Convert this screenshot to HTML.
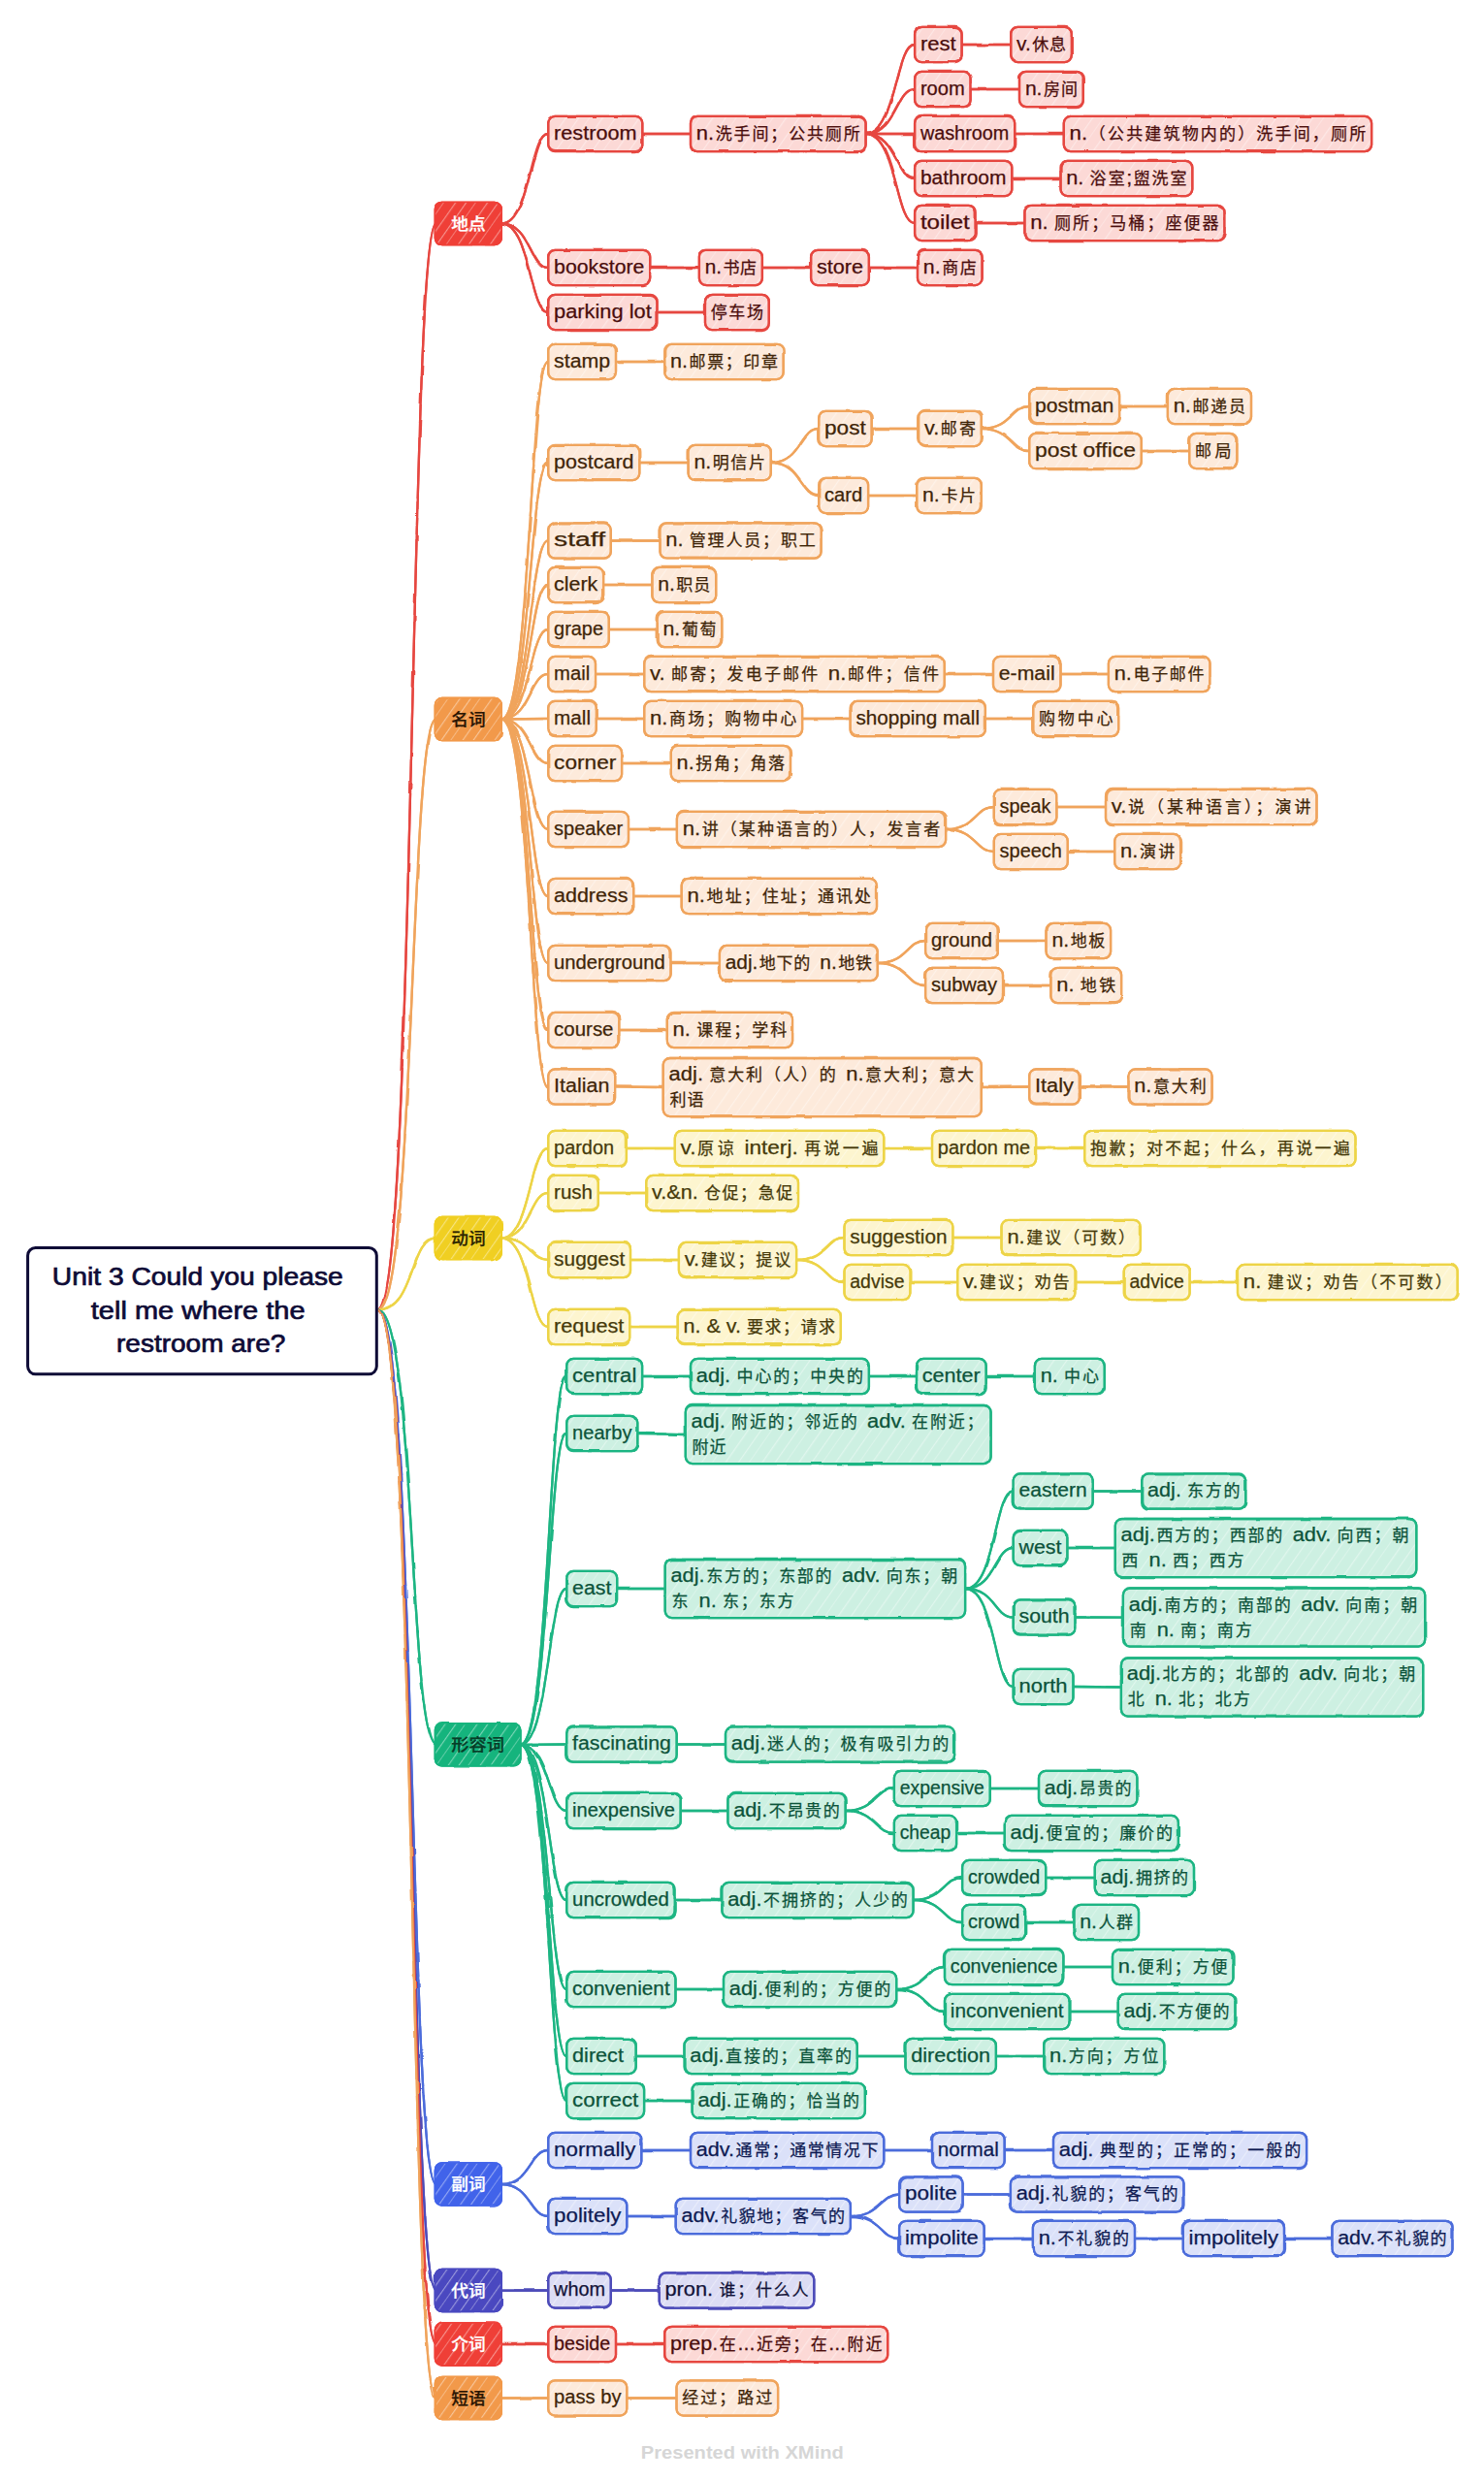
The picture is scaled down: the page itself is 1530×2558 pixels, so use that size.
<!DOCTYPE html>
<html lang="zh"><head><meta charset="utf-8"><title>Unit 3 Could you please tell me where the restroom are?</title>
<style>html,body{margin:0;padding:0;background:#fff}body{width:1530px;height:2558px;overflow:hidden}svg{display:block}.n text{stroke-width:0.25px;paint-order:stroke}</style>
</head><body>
<svg width="1530" height="2558" viewBox="0 0 1530 2558" font-family='"Liberation Sans","Noto Sans CJK SC",sans-serif'>
<defs>
<pattern id="hl" width="40" height="31" patternUnits="userSpaceOnUse" patternTransform="rotate(-55)"><rect x="0" y="0" width="40" height="1.1" fill="#fff" opacity="0.4"/><rect x="0" y="9" width="40" height="0.9" fill="#fff" opacity="0.3"/><rect x="0" y="20" width="40" height="1.3" fill="#fff" opacity="0.38"/></pattern>
<pattern id="hz" width="40" height="27" patternUnits="userSpaceOnUse" patternTransform="rotate(-55)"><rect x="0" y="0" width="40" height="1.1" fill="#fff" opacity="0.45"/><rect x="0" y="8" width="40" height="0.9" fill="#fff" opacity="0.35"/><rect x="0" y="18" width="40" height="1.2" fill="#fff" opacity="0.4"/></pattern>
<filter id="r1" x="0" y="0" width="100%" height="100%" filterUnits="userSpaceOnUse" primitiveUnits="userSpaceOnUse"><feTurbulence type="fractalNoise" baseFrequency="0.035" numOctaves="2" seed="7" result="nz"/><feDisplacementMap in="SourceGraphic" in2="nz" scale="2.6" xChannelSelector="R" yChannelSelector="G"/></filter>
<filter id="r2" x="0" y="0" width="100%" height="100%" filterUnits="userSpaceOnUse" primitiveUnits="userSpaceOnUse"><feTurbulence type="fractalNoise" baseFrequency="0.03" numOctaves="2" seed="23" result="nz"/><feDisplacementMap in="SourceGraphic" in2="nz" scale="2.6" xChannelSelector="G" yChannelSelector="R"/></filter>
<g id="E" fill="none" stroke-linecap="round">
<path d="M389.8 1350.5C428.1 1350.5 422.1 230.5 449.7 230.5" stroke="#e64640" stroke-width="2.3"/>
<path d="M517.0 230.5C546.6 230.5 546.6 138.0 564.8 138.0" stroke="#e64640" stroke-width="2.3"/>
<path d="M662.8 138.0L711.5 138.0" stroke="#e64640" stroke-width="2.3"/>
<path d="M893.0 138.0C923.8 138.0 923.8 46.0 942.6 46.0" stroke="#e64640" stroke-width="2.3"/>
<path d="M992.0 46.0L1041.7 46.0" stroke="#e64640" stroke-width="2.3"/>
<path d="M893.0 138.0C923.8 138.0 923.8 92.0 942.6 92.0" stroke="#e64640" stroke-width="2.3"/>
<path d="M1001.0 92.0L1050.6 92.0" stroke="#e64640" stroke-width="2.3"/>
<path d="M893.0 138.0L942.6 138.0" stroke="#e64640" stroke-width="2.3"/>
<path d="M1046.6 138.0L1096.3 138.0" stroke="#e64640" stroke-width="2.3"/>
<path d="M893.0 138.0C923.8 138.0 923.8 184.0 942.6 184.0" stroke="#e64640" stroke-width="2.3"/>
<path d="M1043.7 184.0L1093.0 184.0" stroke="#e64640" stroke-width="2.3"/>
<path d="M893.0 138.0C923.8 138.0 923.8 230.0 942.6 230.0" stroke="#e64640" stroke-width="2.3"/>
<path d="M1006.1 230.0L1055.9 230.0" stroke="#e64640" stroke-width="2.3"/>
<path d="M517.0 230.5C546.6 230.5 546.6 276.0 564.8 276.0" stroke="#e64640" stroke-width="2.3"/>
<path d="M670.7 276.0L720.4 276.0" stroke="#e64640" stroke-width="2.3"/>
<path d="M786.3 276.0L835.6 276.0" stroke="#e64640" stroke-width="2.3"/>
<path d="M896.3 276.0L945.5 276.0" stroke="#e64640" stroke-width="2.3"/>
<path d="M517.0 230.5C546.6 230.5 546.6 322.0 564.8 322.0" stroke="#e64640" stroke-width="2.3"/>
<path d="M678.0 322.0L726.5 322.0" stroke="#e64640" stroke-width="2.3"/>
<path d="M389.8 1350.5C428.1 1350.5 422.1 741.5 449.7 741.5" stroke="#f0a45c" stroke-width="2.3"/>
<path d="M517.0 741.5C546.6 741.5 546.6 373.0 564.8 373.0" stroke="#f0a45c" stroke-width="2.3"/>
<path d="M635.5 373.0L684.8 373.0" stroke="#f0a45c" stroke-width="2.3"/>
<path d="M517.0 741.5C546.6 741.5 546.6 477.0 564.8 477.0" stroke="#f0a45c" stroke-width="2.3"/>
<path d="M659.8 477.0L709.1 477.0" stroke="#f0a45c" stroke-width="2.3"/>
<path d="M795.2 477.0C825.3 477.0 825.3 442.0 843.7 442.0" stroke="#f0a45c" stroke-width="2.3"/>
<path d="M899.1 442.0L946.7 442.0" stroke="#f0a45c" stroke-width="2.3"/>
<path d="M1012.2 442.0C1042.3 442.0 1042.3 419.0 1060.7 419.0" stroke="#f0a45c" stroke-width="2.3"/>
<path d="M1154.5 419.0L1203.4 419.0" stroke="#f0a45c" stroke-width="2.3"/>
<path d="M1012.2 442.0C1042.3 442.0 1042.3 465.0 1060.7 465.0" stroke="#f0a45c" stroke-width="2.3"/>
<path d="M1177.2 465.0L1225.7 465.0" stroke="#f0a45c" stroke-width="2.3"/>
<path d="M795.2 477.0C825.3 477.0 825.3 511.0 843.7 511.0" stroke="#f0a45c" stroke-width="2.3"/>
<path d="M895.5 511.0L944.7 511.0" stroke="#f0a45c" stroke-width="2.3"/>
<path d="M517.0 741.5C546.6 741.5 546.6 557.5 564.8 557.5" stroke="#f0a45c" stroke-width="2.3"/>
<path d="M630.3 557.5L680.0 557.5" stroke="#f0a45c" stroke-width="2.3"/>
<path d="M517.0 741.5C546.6 741.5 546.6 603.0 564.8 603.0" stroke="#f0a45c" stroke-width="2.3"/>
<path d="M622.6 603.0L671.9 603.0" stroke="#f0a45c" stroke-width="2.3"/>
<path d="M517.0 741.5C546.6 741.5 546.6 649.0 564.8 649.0" stroke="#f0a45c" stroke-width="2.3"/>
<path d="M628.3 649.0L677.2 649.0" stroke="#f0a45c" stroke-width="2.3"/>
<path d="M517.0 741.5C546.6 741.5 546.6 695.0 564.8 695.0" stroke="#f0a45c" stroke-width="2.3"/>
<path d="M614.5 695.0L663.8 695.0" stroke="#f0a45c" stroke-width="2.3"/>
<path d="M974.3 695.0L1023.5 695.0" stroke="#f0a45c" stroke-width="2.3"/>
<path d="M1093.9 695.0L1142.4 695.0" stroke="#f0a45c" stroke-width="2.3"/>
<path d="M517.0 741.5L564.8 741.0" stroke="#f0a45c" stroke-width="2.3"/>
<path d="M615.3 741.0L663.8 741.0" stroke="#f0a45c" stroke-width="2.3"/>
<path d="M827.6 741.0L876.1 741.0" stroke="#f0a45c" stroke-width="2.3"/>
<path d="M1016.3 741.0L1064.8 741.0" stroke="#f0a45c" stroke-width="2.3"/>
<path d="M517.0 741.5C546.6 741.5 546.6 787.0 564.8 787.0" stroke="#f0a45c" stroke-width="2.3"/>
<path d="M641.6 787.0L691.3 787.0" stroke="#f0a45c" stroke-width="2.3"/>
<path d="M517.0 741.5C546.6 741.5 546.6 855.0 564.8 855.0" stroke="#f0a45c" stroke-width="2.3"/>
<path d="M648.5 855.0L697.4 855.0" stroke="#f0a45c" stroke-width="2.3"/>
<path d="M975.5 855.0C1005.8 855.0 1005.8 832.0 1024.3 832.0" stroke="#f0a45c" stroke-width="2.3"/>
<path d="M1089.8 832.0L1139.5 832.0" stroke="#f0a45c" stroke-width="2.3"/>
<path d="M975.5 855.0C1005.8 855.0 1005.8 878.0 1024.3 878.0" stroke="#f0a45c" stroke-width="2.3"/>
<path d="M1101.2 878.0L1148.8 878.0" stroke="#f0a45c" stroke-width="2.3"/>
<path d="M517.0 741.5C546.6 741.5 546.6 924.0 564.8 924.0" stroke="#f0a45c" stroke-width="2.3"/>
<path d="M653.7 924.0L702.2 924.0" stroke="#f0a45c" stroke-width="2.3"/>
<path d="M517.0 741.5C546.6 741.5 546.6 993.0 564.8 993.0" stroke="#f0a45c" stroke-width="2.3"/>
<path d="M692.1 993.0L741.4 993.0" stroke="#f0a45c" stroke-width="2.3"/>
<path d="M905.2 993.0C935.2 993.0 935.2 970.0 953.6 970.0" stroke="#f0a45c" stroke-width="2.3"/>
<path d="M1029.2 970.0L1078.1 970.0" stroke="#f0a45c" stroke-width="2.3"/>
<path d="M905.2 993.0C935.2 993.0 935.2 1016.0 953.6 1016.0" stroke="#f0a45c" stroke-width="2.3"/>
<path d="M1034.4 1016.0L1082.9 1016.0" stroke="#f0a45c" stroke-width="2.3"/>
<path d="M517.0 741.5C546.6 741.5 546.6 1062.0 564.8 1062.0" stroke="#f0a45c" stroke-width="2.3"/>
<path d="M638.8 1062.0L687.3 1062.0" stroke="#f0a45c" stroke-width="2.3"/>
<path d="M517.0 741.5C546.6 741.5 546.6 1120.5 564.8 1120.5" stroke="#f0a45c" stroke-width="2.3"/>
<path d="M634.7 1120.5L683.2 1121.0" stroke="#f0a45c" stroke-width="2.3"/>
<path d="M1012.2 1121.0L1060.7 1120.5" stroke="#f0a45c" stroke-width="2.3"/>
<path d="M1113.3 1120.5L1163.0 1120.5" stroke="#f0a45c" stroke-width="2.3"/>
<path d="M389.8 1350.5C428.1 1350.5 422.1 1276.5 449.7 1276.5" stroke="#edd447" stroke-width="2.3"/>
<path d="M517.0 1276.5C546.6 1276.5 546.6 1184.0 564.8 1184.0" stroke="#edd447" stroke-width="2.3"/>
<path d="M646.4 1184.0L695.3 1184.0" stroke="#edd447" stroke-width="2.3"/>
<path d="M911.7 1184.0L960.5 1184.0" stroke="#edd447" stroke-width="2.3"/>
<path d="M1068.5 1184.0L1117.8 1184.0" stroke="#edd447" stroke-width="2.3"/>
<path d="M517.0 1276.5C546.6 1276.5 546.6 1230.0 564.8 1230.0" stroke="#edd447" stroke-width="2.3"/>
<path d="M617.3 1230.0L665.8 1230.0" stroke="#edd447" stroke-width="2.3"/>
<path d="M517.0 1276.5C546.6 1276.5 546.6 1299.0 564.8 1299.0" stroke="#edd447" stroke-width="2.3"/>
<path d="M650.5 1299.0L699.4 1299.0" stroke="#edd447" stroke-width="2.3"/>
<path d="M821.5 1299.0C851.6 1299.0 851.6 1276.0 870.0 1276.0" stroke="#edd447" stroke-width="2.3"/>
<path d="M982.8 1276.0L1032.1 1276.0" stroke="#edd447" stroke-width="2.3"/>
<path d="M821.5 1299.0C851.6 1299.0 851.6 1322.0 870.0 1322.0" stroke="#edd447" stroke-width="2.3"/>
<path d="M938.8 1322.0L986.8 1322.0" stroke="#edd447" stroke-width="2.3"/>
<path d="M1108.9 1322.0L1158.2 1322.0" stroke="#edd447" stroke-width="2.3"/>
<path d="M1227.0 1322.0L1275.5 1322.0" stroke="#edd447" stroke-width="2.3"/>
<path d="M517.0 1276.5C546.6 1276.5 546.6 1368.0 564.8 1368.0" stroke="#edd447" stroke-width="2.3"/>
<path d="M649.7 1368.0L698.2 1368.0" stroke="#edd447" stroke-width="2.3"/>
<path d="M389.8 1350.5C428.1 1350.5 422.1 1798.8 449.7 1798.8" stroke="#1fb583" stroke-width="2.3"/>
<path d="M536.5 1798.8C565.8 1798.8 565.8 1419.0 583.8 1419.0" stroke="#1fb583" stroke-width="2.3"/>
<path d="M662.6 1419.0L711.5 1419.0" stroke="#1fb583" stroke-width="2.3"/>
<path d="M896.3 1419.0L944.5 1419.0" stroke="#1fb583" stroke-width="2.3"/>
<path d="M1017.1 1419.0L1066.4 1419.0" stroke="#1fb583" stroke-width="2.3"/>
<path d="M536.5 1798.8C565.8 1798.8 565.8 1478.0 583.8 1478.0" stroke="#1fb583" stroke-width="2.3"/>
<path d="M657.8 1478.0C687.9 1478.0 687.9 1479.0 706.3 1479.0" stroke="#1fb583" stroke-width="2.3"/>
<path d="M536.5 1798.8C565.8 1798.8 565.8 1638.0 583.8 1638.0" stroke="#1fb583" stroke-width="2.3"/>
<path d="M636.7 1638.0L685.2 1638.0" stroke="#1fb583" stroke-width="2.3"/>
<path d="M995.5 1638.0C1025.7 1638.0 1025.7 1537.5 1044.2 1537.5" stroke="#1fb583" stroke-width="2.3"/>
<path d="M1127.1 1537.5L1176.8 1537.5" stroke="#1fb583" stroke-width="2.3"/>
<path d="M995.5 1638.0C1025.7 1638.0 1025.7 1596.0 1044.2 1596.0" stroke="#1fb583" stroke-width="2.3"/>
<path d="M1100.8 1596.0L1149.3 1596.0" stroke="#1fb583" stroke-width="2.3"/>
<path d="M995.5 1638.0C1025.7 1638.0 1025.7 1667.5 1044.2 1667.5" stroke="#1fb583" stroke-width="2.3"/>
<path d="M1108.9 1667.5L1157.4 1667.6" stroke="#1fb583" stroke-width="2.3"/>
<path d="M995.5 1638.0C1025.7 1638.0 1025.7 1739.0 1044.2 1739.0" stroke="#1fb583" stroke-width="2.3"/>
<path d="M1106.9 1739.0L1155.4 1739.5" stroke="#1fb583" stroke-width="2.3"/>
<path d="M536.5 1798.8L583.8 1798.5" stroke="#1fb583" stroke-width="2.3"/>
<path d="M698.2 1798.5L747.5 1798.5" stroke="#1fb583" stroke-width="2.3"/>
<path d="M536.5 1798.8C565.8 1798.8 565.8 1867.0 583.8 1867.0" stroke="#1fb583" stroke-width="2.3"/>
<path d="M702.2 1867.0L749.9 1867.0" stroke="#1fb583" stroke-width="2.3"/>
<path d="M872.1 1867.0C902.7 1867.0 902.7 1844.0 921.4 1844.0" stroke="#1fb583" stroke-width="2.3"/>
<path d="M1021.2 1844.0L1070.5 1844.0" stroke="#1fb583" stroke-width="2.3"/>
<path d="M872.1 1867.0C902.7 1867.0 902.7 1890.0 921.4 1890.0" stroke="#1fb583" stroke-width="2.3"/>
<path d="M986.5 1890.0L1035.3 1890.0" stroke="#1fb583" stroke-width="2.3"/>
<path d="M536.5 1798.8C565.8 1798.8 565.8 1959.0 583.8 1959.0" stroke="#1fb583" stroke-width="2.3"/>
<path d="M696.2 1959.0L743.9 1959.0" stroke="#1fb583" stroke-width="2.3"/>
<path d="M942.0 1959.0C972.8 1959.0 972.8 1936.0 991.6 1936.0" stroke="#1fb583" stroke-width="2.3"/>
<path d="M1078.6 1936.0L1128.3 1936.0" stroke="#1fb583" stroke-width="2.3"/>
<path d="M942.0 1959.0C972.8 1959.0 972.8 1982.0 991.6 1982.0" stroke="#1fb583" stroke-width="2.3"/>
<path d="M1057.6 1982.0L1106.9 1982.0" stroke="#1fb583" stroke-width="2.3"/>
<path d="M536.5 1798.8C565.8 1798.8 565.8 2051.0 583.8 2051.0" stroke="#1fb583" stroke-width="2.3"/>
<path d="M697.0 2051.0L745.5 2051.0" stroke="#1fb583" stroke-width="2.3"/>
<path d="M924.6 2051.0C954.9 2051.0 954.9 2028.0 973.5 2028.0" stroke="#1fb583" stroke-width="2.3"/>
<path d="M1096.8 2028.0L1146.5 2028.0" stroke="#1fb583" stroke-width="2.3"/>
<path d="M924.6 2051.0C954.9 2051.0 954.9 2074.0 973.5 2074.0" stroke="#1fb583" stroke-width="2.3"/>
<path d="M1102.9 2074.0L1152.2 2074.0" stroke="#1fb583" stroke-width="2.3"/>
<path d="M536.5 1798.8C565.8 1798.8 565.8 2120.0 583.8 2120.0" stroke="#1fb583" stroke-width="2.3"/>
<path d="M656.2 2120.0L705.0 2120.0" stroke="#1fb583" stroke-width="2.3"/>
<path d="M884.2 2120.0L933.0 2120.0" stroke="#1fb583" stroke-width="2.3"/>
<path d="M1027.3 2120.0L1075.7 2120.0" stroke="#1fb583" stroke-width="2.3"/>
<path d="M536.5 1798.8C565.8 1798.8 565.8 2166.0 583.8 2166.0" stroke="#1fb583" stroke-width="2.3"/>
<path d="M664.6 2166.0L713.1 2166.0" stroke="#1fb583" stroke-width="2.3"/>
<path d="M389.8 1350.5C428.1 1350.5 422.1 2252.0 449.7 2252.0" stroke="#4c6cdb" stroke-width="2.3"/>
<path d="M517.0 2252.0C546.6 2252.0 546.6 2217.0 564.8 2217.0" stroke="#4c6cdb" stroke-width="2.3"/>
<path d="M661.8 2217.0L711.5 2217.0" stroke="#4c6cdb" stroke-width="2.3"/>
<path d="M911.7 2217.0L960.5 2217.0" stroke="#4c6cdb" stroke-width="2.3"/>
<path d="M1036.1 2217.0L1085.5 2217.0" stroke="#4c6cdb" stroke-width="2.3"/>
<path d="M517.0 2252.0C546.6 2252.0 546.6 2285.0 564.8 2285.0" stroke="#4c6cdb" stroke-width="2.3"/>
<path d="M646.8 2285.0L696.2 2285.0" stroke="#4c6cdb" stroke-width="2.3"/>
<path d="M877.3 2285.0C907.9 2285.0 907.9 2262.5 926.6 2262.5" stroke="#4c6cdb" stroke-width="2.3"/>
<path d="M993.0 2262.5L1041.4 2262.5" stroke="#4c6cdb" stroke-width="2.3"/>
<path d="M877.3 2285.0C907.9 2285.0 907.9 2308.0 926.6 2308.0" stroke="#4c6cdb" stroke-width="2.3"/>
<path d="M1015.1 2308.0L1064.4 2308.0" stroke="#4c6cdb" stroke-width="2.3"/>
<path d="M1170.4 2308.0L1219.3 2308.0" stroke="#4c6cdb" stroke-width="2.3"/>
<path d="M1324.4 2308.0L1372.9 2308.0" stroke="#4c6cdb" stroke-width="2.3"/>
<path d="M389.8 1350.5C428.1 1350.5 422.1 2361.5 449.7 2361.5" stroke="#4d4cb9" stroke-width="2.3"/>
<path d="M517.0 2361.5L564.8 2361.5" stroke="#4d4cb9" stroke-width="2.3"/>
<path d="M630.3 2361.5L679.2 2361.5" stroke="#4d4cb9" stroke-width="2.3"/>
<path d="M389.8 1350.5C428.1 1350.5 422.1 2417.0 449.7 2417.0" stroke="#e64640" stroke-width="2.3"/>
<path d="M517.0 2417.0L564.8 2417.0" stroke="#e64640" stroke-width="2.3"/>
<path d="M635.5 2417.0L684.8 2417.0" stroke="#e64640" stroke-width="2.3"/>
<path d="M389.8 1350.5C428.1 1350.5 422.1 2472.5 449.7 2472.5" stroke="#f0a45c" stroke-width="2.3"/>
<path d="M517.0 2472.5L564.8 2472.5" stroke="#f0a45c" stroke-width="2.3"/>
<path d="M646.8 2472.5L697.0 2472.5" stroke="#f0a45c" stroke-width="2.3"/>
</g>
<g id="B" fill="none" stroke-width="2.3">
<rect x="448.4" y="208.4" width="68.9" height="44.1" rx="7.5" stroke="#ef3f37" stroke-width="1.4"/>
<rect x="565.2" y="119.9" width="97.1" height="36.3" rx="7" stroke="#e64640"/>
<rect x="712.0" y="119.9" width="180.6" height="36.3" rx="7" stroke="#e64640"/>
<rect x="943.1" y="27.8" width="48.5" height="36.3" rx="7" stroke="#e64640"/>
<rect x="1042.2" y="27.8" width="62.6" height="36.3" rx="7" stroke="#e64640"/>
<rect x="943.1" y="73.9" width="57.5" height="36.3" rx="7" stroke="#e64640"/>
<rect x="1051.0" y="73.9" width="65.8" height="36.3" rx="7" stroke="#e64640"/>
<rect x="943.1" y="119.9" width="103.1" height="36.3" rx="7" stroke="#e64640"/>
<rect x="1096.8" y="119.9" width="317.3" height="36.3" rx="7" stroke="#e64640"/>
<rect x="943.1" y="165.8" width="100.2" height="36.3" rx="7" stroke="#e64640"/>
<rect x="1093.5" y="165.8" width="135.8" height="36.3" rx="7" stroke="#e64640"/>
<rect x="943.1" y="211.8" width="62.6" height="36.3" rx="7" stroke="#e64640"/>
<rect x="1056.4" y="211.8" width="206.1" height="36.3" rx="7" stroke="#e64640"/>
<rect x="565.2" y="257.8" width="105.0" height="36.3" rx="7" stroke="#e64640"/>
<rect x="720.9" y="257.8" width="65.0" height="36.3" rx="7" stroke="#e64640"/>
<rect x="836.1" y="257.8" width="59.8" height="36.3" rx="7" stroke="#e64640"/>
<rect x="946.0" y="257.8" width="66.6" height="36.3" rx="7" stroke="#e64640"/>
<rect x="565.2" y="303.8" width="112.3" height="36.3" rx="7" stroke="#e64640"/>
<rect x="727.0" y="303.8" width="65.8" height="36.3" rx="7" stroke="#e64640"/>
<rect x="448.4" y="719.5" width="68.9" height="44.1" rx="7.5" stroke="#f2994a" stroke-width="1.4"/>
<rect x="565.2" y="354.8" width="69.8" height="36.3" rx="7" stroke="#f0a45c"/>
<rect x="685.2" y="354.8" width="122.5" height="36.3" rx="7" stroke="#f0a45c"/>
<rect x="565.2" y="458.8" width="94.1" height="36.3" rx="7" stroke="#f0a45c"/>
<rect x="709.6" y="458.8" width="85.2" height="36.3" rx="7" stroke="#f0a45c"/>
<rect x="844.2" y="423.8" width="54.5" height="36.3" rx="7" stroke="#f0a45c"/>
<rect x="947.2" y="423.8" width="64.6" height="36.3" rx="7" stroke="#f0a45c"/>
<rect x="1061.2" y="400.8" width="92.9" height="36.3" rx="7" stroke="#f0a45c"/>
<rect x="1203.9" y="400.8" width="86.1" height="36.3" rx="7" stroke="#f0a45c"/>
<rect x="1061.2" y="446.8" width="115.6" height="36.3" rx="7" stroke="#f0a45c"/>
<rect x="1226.2" y="446.8" width="49.2" height="36.3" rx="7" stroke="#f0a45c"/>
<rect x="844.2" y="492.8" width="50.9" height="36.3" rx="7" stroke="#f0a45c"/>
<rect x="945.2" y="492.8" width="66.6" height="36.3" rx="7" stroke="#f0a45c"/>
<rect x="565.2" y="539.4" width="64.6" height="36.3" rx="7" stroke="#f0a45c"/>
<rect x="680.5" y="539.4" width="166.1" height="36.3" rx="7" stroke="#f0a45c"/>
<rect x="565.2" y="584.9" width="56.9" height="36.3" rx="7" stroke="#f0a45c"/>
<rect x="672.4" y="584.9" width="65.8" height="36.3" rx="7" stroke="#f0a45c"/>
<rect x="565.2" y="630.9" width="62.6" height="36.3" rx="7" stroke="#f0a45c"/>
<rect x="677.7" y="630.9" width="66.6" height="36.3" rx="7" stroke="#f0a45c"/>
<rect x="565.2" y="676.9" width="48.8" height="36.3" rx="7" stroke="#f0a45c"/>
<rect x="664.2" y="676.9" width="309.6" height="36.3" rx="7" stroke="#f0a45c"/>
<rect x="1024.0" y="676.9" width="69.5" height="36.3" rx="7" stroke="#f0a45c"/>
<rect x="1142.9" y="676.9" width="104.6" height="36.3" rx="7" stroke="#f0a45c"/>
<rect x="565.2" y="722.9" width="49.6" height="36.3" rx="7" stroke="#f0a45c"/>
<rect x="664.2" y="722.9" width="162.9" height="36.3" rx="7" stroke="#f0a45c"/>
<rect x="876.6" y="722.9" width="139.3" height="36.3" rx="7" stroke="#f0a45c"/>
<rect x="1065.2" y="722.9" width="88.0" height="36.3" rx="7" stroke="#f0a45c"/>
<rect x="565.2" y="768.9" width="75.9" height="36.3" rx="7" stroke="#f0a45c"/>
<rect x="691.8" y="768.9" width="123.2" height="36.3" rx="7" stroke="#f0a45c"/>
<rect x="565.2" y="836.9" width="82.8" height="36.3" rx="7" stroke="#f0a45c"/>
<rect x="697.9" y="836.9" width="277.2" height="36.3" rx="7" stroke="#f0a45c"/>
<rect x="1024.8" y="813.9" width="64.6" height="36.3" rx="7" stroke="#f0a45c"/>
<rect x="1140.0" y="813.9" width="217.5" height="36.3" rx="7" stroke="#f0a45c"/>
<rect x="1024.8" y="859.9" width="76.0" height="36.3" rx="7" stroke="#f0a45c"/>
<rect x="1149.2" y="859.9" width="67.9" height="36.3" rx="7" stroke="#f0a45c"/>
<rect x="565.2" y="905.9" width="88.0" height="36.3" rx="7" stroke="#f0a45c"/>
<rect x="702.7" y="905.9" width="201.3" height="36.3" rx="7" stroke="#f0a45c"/>
<rect x="565.2" y="974.9" width="126.4" height="36.3" rx="7" stroke="#f0a45c"/>
<rect x="741.9" y="974.9" width="162.9" height="36.3" rx="7" stroke="#f0a45c"/>
<rect x="954.1" y="951.9" width="74.7" height="36.3" rx="7" stroke="#f0a45c"/>
<rect x="1078.5" y="951.9" width="66.6" height="36.3" rx="7" stroke="#f0a45c"/>
<rect x="954.1" y="997.9" width="79.9" height="36.3" rx="7" stroke="#f0a45c"/>
<rect x="1083.4" y="997.9" width="72.7" height="36.3" rx="7" stroke="#f0a45c"/>
<rect x="565.2" y="1043.9" width="73.1" height="36.3" rx="7" stroke="#f0a45c"/>
<rect x="687.8" y="1043.9" width="129.3" height="36.3" rx="7" stroke="#f0a45c"/>
<rect x="565.2" y="1102.4" width="69.0" height="36.3" rx="7" stroke="#f0a45c"/>
<rect x="683.7" y="1091.0" width="328.1" height="60.1" rx="7" stroke="#f0a45c"/>
<rect x="1061.2" y="1102.4" width="51.7" height="36.3" rx="7" stroke="#f0a45c"/>
<rect x="1163.5" y="1102.4" width="86.1" height="36.3" rx="7" stroke="#f0a45c"/>
<rect x="448.4" y="1254.5" width="68.9" height="44.1" rx="7.5" stroke="#f0cf22" stroke-width="1.4"/>
<rect x="565.2" y="1165.9" width="80.7" height="36.3" rx="7" stroke="#edd447"/>
<rect x="695.8" y="1165.9" width="215.5" height="36.3" rx="7" stroke="#edd447"/>
<rect x="961.0" y="1165.9" width="107.1" height="36.3" rx="7" stroke="#edd447"/>
<rect x="1118.2" y="1165.9" width="279.3" height="36.3" rx="7" stroke="#edd447"/>
<rect x="565.2" y="1211.9" width="51.6" height="36.3" rx="7" stroke="#edd447"/>
<rect x="666.2" y="1211.9" width="156.8" height="36.3" rx="7" stroke="#edd447"/>
<rect x="565.2" y="1280.9" width="84.8" height="36.3" rx="7" stroke="#edd447"/>
<rect x="699.9" y="1280.9" width="121.2" height="36.3" rx="7" stroke="#edd447"/>
<rect x="870.5" y="1257.9" width="111.9" height="36.3" rx="7" stroke="#edd447"/>
<rect x="1032.5" y="1257.9" width="143.4" height="36.3" rx="7" stroke="#edd447"/>
<rect x="870.5" y="1303.9" width="67.9" height="36.3" rx="7" stroke="#edd447"/>
<rect x="987.2" y="1303.9" width="121.2" height="36.3" rx="7" stroke="#edd447"/>
<rect x="1158.7" y="1303.9" width="67.9" height="36.3" rx="7" stroke="#edd447"/>
<rect x="1276.0" y="1303.9" width="226.7" height="36.3" rx="7" stroke="#edd447"/>
<rect x="565.2" y="1349.9" width="84.0" height="36.3" rx="7" stroke="#edd447"/>
<rect x="698.7" y="1349.9" width="168.1" height="36.3" rx="7" stroke="#edd447"/>
<rect x="448.4" y="1776.8" width="88.4" height="44.1" rx="7.5" stroke="#15b47d" stroke-width="1.4"/>
<rect x="584.2" y="1400.9" width="77.9" height="36.3" rx="7" stroke="#1fb583"/>
<rect x="712.0" y="1400.9" width="183.9" height="36.3" rx="7" stroke="#1fb583"/>
<rect x="945.0" y="1400.9" width="71.7" height="36.3" rx="7" stroke="#1fb583"/>
<rect x="1066.9" y="1400.9" width="71.9" height="36.3" rx="7" stroke="#1fb583"/>
<rect x="584.2" y="1459.9" width="73.1" height="36.3" rx="7" stroke="#1fb583"/>
<rect x="706.8" y="1449.0" width="314.8" height="60.1" rx="7" stroke="#1fb583"/>
<rect x="584.2" y="1619.9" width="52.0" height="36.3" rx="7" stroke="#1fb583"/>
<rect x="685.7" y="1608.0" width="309.4" height="60.1" rx="7" stroke="#1fb583"/>
<rect x="1044.7" y="1519.4" width="82.0" height="36.3" rx="7" stroke="#1fb583"/>
<rect x="1177.2" y="1519.4" width="107.1" height="36.3" rx="7" stroke="#1fb583"/>
<rect x="1044.7" y="1577.9" width="55.7" height="36.3" rx="7" stroke="#1fb583"/>
<rect x="1149.8" y="1566.0" width="310.5" height="60.1" rx="7" stroke="#1fb583"/>
<rect x="1044.7" y="1649.4" width="63.8" height="36.3" rx="7" stroke="#1fb583"/>
<rect x="1157.9" y="1637.5" width="311.3" height="60.1" rx="7" stroke="#1fb583"/>
<rect x="1044.7" y="1720.9" width="61.8" height="36.3" rx="7" stroke="#1fb583"/>
<rect x="1155.9" y="1709.5" width="311.3" height="60.1" rx="7" stroke="#1fb583"/>
<rect x="584.2" y="1780.4" width="113.5" height="36.3" rx="7" stroke="#1fb583"/>
<rect x="748.0" y="1780.4" width="236.1" height="36.3" rx="7" stroke="#1fb583"/>
<rect x="584.2" y="1848.9" width="117.5" height="36.3" rx="7" stroke="#1fb583"/>
<rect x="750.4" y="1848.9" width="121.3" height="36.3" rx="7" stroke="#1fb583"/>
<rect x="921.9" y="1825.9" width="98.9" height="36.3" rx="7" stroke="#1fb583"/>
<rect x="1071.0" y="1825.9" width="101.4" height="36.3" rx="7" stroke="#1fb583"/>
<rect x="921.9" y="1871.9" width="64.2" height="36.3" rx="7" stroke="#1fb583"/>
<rect x="1035.8" y="1871.9" width="179.1" height="36.3" rx="7" stroke="#1fb583"/>
<rect x="584.2" y="1940.9" width="111.5" height="36.3" rx="7" stroke="#1fb583"/>
<rect x="744.4" y="1940.9" width="197.2" height="36.3" rx="7" stroke="#1fb583"/>
<rect x="992.1" y="1917.9" width="86.1" height="36.3" rx="7" stroke="#1fb583"/>
<rect x="1128.8" y="1917.9" width="102.2" height="36.3" rx="7" stroke="#1fb583"/>
<rect x="992.1" y="1963.9" width="65.1" height="36.3" rx="7" stroke="#1fb583"/>
<rect x="1107.4" y="1963.9" width="66.6" height="36.3" rx="7" stroke="#1fb583"/>
<rect x="584.2" y="2032.9" width="112.3" height="36.3" rx="7" stroke="#1fb583"/>
<rect x="746.0" y="2032.9" width="178.2" height="36.3" rx="7" stroke="#1fb583"/>
<rect x="974.0" y="2009.9" width="122.4" height="36.3" rx="7" stroke="#1fb583"/>
<rect x="1147.0" y="2009.9" width="124.5" height="36.3" rx="7" stroke="#1fb583"/>
<rect x="974.0" y="2055.8" width="128.5" height="36.3" rx="7" stroke="#1fb583"/>
<rect x="1152.7" y="2055.8" width="120.8" height="36.3" rx="7" stroke="#1fb583"/>
<rect x="584.2" y="2101.8" width="71.5" height="36.3" rx="7" stroke="#1fb583"/>
<rect x="705.5" y="2101.8" width="178.3" height="36.3" rx="7" stroke="#1fb583"/>
<rect x="933.5" y="2101.8" width="93.4" height="36.3" rx="7" stroke="#1fb583"/>
<rect x="1076.2" y="2101.8" width="124.1" height="36.3" rx="7" stroke="#1fb583"/>
<rect x="584.2" y="2147.8" width="79.9" height="36.3" rx="7" stroke="#1fb583"/>
<rect x="713.6" y="2147.8" width="178.3" height="36.3" rx="7" stroke="#1fb583"/>
<rect x="448.4" y="2229.9" width="68.9" height="44.1" rx="7.5" stroke="#4163ea" stroke-width="1.4"/>
<rect x="565.2" y="2198.8" width="96.1" height="36.3" rx="7" stroke="#4c6cdb"/>
<rect x="712.0" y="2198.8" width="199.3" height="36.3" rx="7" stroke="#4c6cdb"/>
<rect x="961.0" y="2198.8" width="74.7" height="36.3" rx="7" stroke="#4c6cdb"/>
<rect x="1086.0" y="2198.8" width="261.1" height="36.3" rx="7" stroke="#4c6cdb"/>
<rect x="565.2" y="2266.8" width="81.1" height="36.3" rx="7" stroke="#4c6cdb"/>
<rect x="696.7" y="2266.8" width="180.2" height="36.3" rx="7" stroke="#4c6cdb"/>
<rect x="927.1" y="2244.3" width="65.5" height="36.3" rx="7" stroke="#4c6cdb"/>
<rect x="1041.9" y="2244.3" width="178.6" height="36.3" rx="7" stroke="#4c6cdb"/>
<rect x="927.1" y="2289.8" width="87.6" height="36.3" rx="7" stroke="#4c6cdb"/>
<rect x="1064.9" y="2289.8" width="105.1" height="36.3" rx="7" stroke="#4c6cdb"/>
<rect x="1219.8" y="2289.8" width="104.2" height="36.3" rx="7" stroke="#4c6cdb"/>
<rect x="1373.4" y="2289.8" width="124.1" height="36.3" rx="7" stroke="#4c6cdb"/>
<rect x="448.4" y="2339.4" width="68.9" height="44.1" rx="7.5" stroke="#4a48c0" stroke-width="1.4"/>
<rect x="565.2" y="2343.3" width="64.6" height="36.3" rx="7" stroke="#4d4cb9"/>
<rect x="679.7" y="2343.3" width="159.6" height="36.3" rx="7" stroke="#4d4cb9"/>
<rect x="448.4" y="2394.9" width="68.9" height="44.1" rx="7.5" stroke="#ef3f37" stroke-width="1.4"/>
<rect x="565.2" y="2398.8" width="69.8" height="36.3" rx="7" stroke="#e64640"/>
<rect x="685.2" y="2398.8" width="230.0" height="36.3" rx="7" stroke="#e64640"/>
<rect x="448.4" y="2450.4" width="68.9" height="44.1" rx="7.5" stroke="#f2994a" stroke-width="1.4"/>
<rect x="565.2" y="2454.3" width="81.1" height="36.3" rx="7" stroke="#f0a45c"/>
<rect x="697.5" y="2454.3" width="104.6" height="36.3" rx="7" stroke="#f0a45c"/>
</g>
</defs>
<rect width="1530" height="2558" fill="#fff"/>
<use href="#E" filter="url(#r1)"/>
<use href="#E" filter="url(#r2)"/>
<g>
<rect x="447.7" y="207.8" width="70.3" height="45.5" rx="8" fill="#ef3f37"/>
<rect x="565.2" y="119.9" width="97.1" height="36.3" rx="7" fill="#fcd9d6"/>
<rect x="712.0" y="119.9" width="180.6" height="36.3" rx="7" fill="#fcd9d6"/>
<rect x="943.1" y="27.8" width="48.5" height="36.3" rx="7" fill="#fcd9d6"/>
<rect x="1042.2" y="27.8" width="62.6" height="36.3" rx="7" fill="#fcd9d6"/>
<rect x="943.1" y="73.9" width="57.5" height="36.3" rx="7" fill="#fcd9d6"/>
<rect x="1051.0" y="73.9" width="65.8" height="36.3" rx="7" fill="#fcd9d6"/>
<rect x="943.1" y="119.9" width="103.1" height="36.3" rx="7" fill="#fcd9d6"/>
<rect x="1096.8" y="119.9" width="317.3" height="36.3" rx="7" fill="#fcd9d6"/>
<rect x="943.1" y="165.8" width="100.2" height="36.3" rx="7" fill="#fcd9d6"/>
<rect x="1093.5" y="165.8" width="135.8" height="36.3" rx="7" fill="#fcd9d6"/>
<rect x="943.1" y="211.8" width="62.6" height="36.3" rx="7" fill="#fcd9d6"/>
<rect x="1056.4" y="211.8" width="206.1" height="36.3" rx="7" fill="#fcd9d6"/>
<rect x="565.2" y="257.8" width="105.0" height="36.3" rx="7" fill="#fcd9d6"/>
<rect x="720.9" y="257.8" width="65.0" height="36.3" rx="7" fill="#fcd9d6"/>
<rect x="836.1" y="257.8" width="59.8" height="36.3" rx="7" fill="#fcd9d6"/>
<rect x="946.0" y="257.8" width="66.6" height="36.3" rx="7" fill="#fcd9d6"/>
<rect x="565.2" y="303.8" width="112.3" height="36.3" rx="7" fill="#fcd9d6"/>
<rect x="727.0" y="303.8" width="65.8" height="36.3" rx="7" fill="#fcd9d6"/>
<rect x="447.7" y="718.8" width="70.3" height="45.5" rx="8" fill="#f2994a"/>
<rect x="565.2" y="354.8" width="69.8" height="36.3" rx="7" fill="#fdeadb"/>
<rect x="685.2" y="354.8" width="122.5" height="36.3" rx="7" fill="#fdeadb"/>
<rect x="565.2" y="458.8" width="94.1" height="36.3" rx="7" fill="#fdeadb"/>
<rect x="709.6" y="458.8" width="85.2" height="36.3" rx="7" fill="#fdeadb"/>
<rect x="844.2" y="423.8" width="54.5" height="36.3" rx="7" fill="#fdeadb"/>
<rect x="947.2" y="423.8" width="64.6" height="36.3" rx="7" fill="#fdeadb"/>
<rect x="1061.2" y="400.8" width="92.9" height="36.3" rx="7" fill="#fdeadb"/>
<rect x="1203.9" y="400.8" width="86.1" height="36.3" rx="7" fill="#fdeadb"/>
<rect x="1061.2" y="446.8" width="115.6" height="36.3" rx="7" fill="#fdeadb"/>
<rect x="1226.2" y="446.8" width="49.2" height="36.3" rx="7" fill="#fdeadb"/>
<rect x="844.2" y="492.8" width="50.9" height="36.3" rx="7" fill="#fdeadb"/>
<rect x="945.2" y="492.8" width="66.6" height="36.3" rx="7" fill="#fdeadb"/>
<rect x="565.2" y="539.4" width="64.6" height="36.3" rx="7" fill="#fdeadb"/>
<rect x="680.5" y="539.4" width="166.1" height="36.3" rx="7" fill="#fdeadb"/>
<rect x="565.2" y="584.9" width="56.9" height="36.3" rx="7" fill="#fdeadb"/>
<rect x="672.4" y="584.9" width="65.8" height="36.3" rx="7" fill="#fdeadb"/>
<rect x="565.2" y="630.9" width="62.6" height="36.3" rx="7" fill="#fdeadb"/>
<rect x="677.7" y="630.9" width="66.6" height="36.3" rx="7" fill="#fdeadb"/>
<rect x="565.2" y="676.9" width="48.8" height="36.3" rx="7" fill="#fdeadb"/>
<rect x="664.2" y="676.9" width="309.6" height="36.3" rx="7" fill="#fdeadb"/>
<rect x="1024.0" y="676.9" width="69.5" height="36.3" rx="7" fill="#fdeadb"/>
<rect x="1142.9" y="676.9" width="104.6" height="36.3" rx="7" fill="#fdeadb"/>
<rect x="565.2" y="722.9" width="49.6" height="36.3" rx="7" fill="#fdeadb"/>
<rect x="664.2" y="722.9" width="162.9" height="36.3" rx="7" fill="#fdeadb"/>
<rect x="876.6" y="722.9" width="139.3" height="36.3" rx="7" fill="#fdeadb"/>
<rect x="1065.2" y="722.9" width="88.0" height="36.3" rx="7" fill="#fdeadb"/>
<rect x="565.2" y="768.9" width="75.9" height="36.3" rx="7" fill="#fdeadb"/>
<rect x="691.8" y="768.9" width="123.2" height="36.3" rx="7" fill="#fdeadb"/>
<rect x="565.2" y="836.9" width="82.8" height="36.3" rx="7" fill="#fdeadb"/>
<rect x="697.9" y="836.9" width="277.2" height="36.3" rx="7" fill="#fdeadb"/>
<rect x="1024.8" y="813.9" width="64.6" height="36.3" rx="7" fill="#fdeadb"/>
<rect x="1140.0" y="813.9" width="217.5" height="36.3" rx="7" fill="#fdeadb"/>
<rect x="1024.8" y="859.9" width="76.0" height="36.3" rx="7" fill="#fdeadb"/>
<rect x="1149.2" y="859.9" width="67.9" height="36.3" rx="7" fill="#fdeadb"/>
<rect x="565.2" y="905.9" width="88.0" height="36.3" rx="7" fill="#fdeadb"/>
<rect x="702.7" y="905.9" width="201.3" height="36.3" rx="7" fill="#fdeadb"/>
<rect x="565.2" y="974.9" width="126.4" height="36.3" rx="7" fill="#fdeadb"/>
<rect x="741.9" y="974.9" width="162.9" height="36.3" rx="7" fill="#fdeadb"/>
<rect x="954.1" y="951.9" width="74.7" height="36.3" rx="7" fill="#fdeadb"/>
<rect x="1078.5" y="951.9" width="66.6" height="36.3" rx="7" fill="#fdeadb"/>
<rect x="954.1" y="997.9" width="79.9" height="36.3" rx="7" fill="#fdeadb"/>
<rect x="1083.4" y="997.9" width="72.7" height="36.3" rx="7" fill="#fdeadb"/>
<rect x="565.2" y="1043.9" width="73.1" height="36.3" rx="7" fill="#fdeadb"/>
<rect x="687.8" y="1043.9" width="129.3" height="36.3" rx="7" fill="#fdeadb"/>
<rect x="565.2" y="1102.4" width="69.0" height="36.3" rx="7" fill="#fdeadb"/>
<rect x="683.7" y="1091.0" width="328.1" height="60.1" rx="7" fill="#fdeadb"/>
<rect x="1061.2" y="1102.4" width="51.7" height="36.3" rx="7" fill="#fdeadb"/>
<rect x="1163.5" y="1102.4" width="86.1" height="36.3" rx="7" fill="#fdeadb"/>
<rect x="447.7" y="1253.8" width="70.3" height="45.5" rx="8" fill="#f0cf22"/>
<rect x="565.2" y="1165.9" width="80.7" height="36.3" rx="7" fill="#fdf5cf"/>
<rect x="695.8" y="1165.9" width="215.5" height="36.3" rx="7" fill="#fdf5cf"/>
<rect x="961.0" y="1165.9" width="107.1" height="36.3" rx="7" fill="#fdf5cf"/>
<rect x="1118.2" y="1165.9" width="279.3" height="36.3" rx="7" fill="#fdf5cf"/>
<rect x="565.2" y="1211.9" width="51.6" height="36.3" rx="7" fill="#fdf5cf"/>
<rect x="666.2" y="1211.9" width="156.8" height="36.3" rx="7" fill="#fdf5cf"/>
<rect x="565.2" y="1280.9" width="84.8" height="36.3" rx="7" fill="#fdf5cf"/>
<rect x="699.9" y="1280.9" width="121.2" height="36.3" rx="7" fill="#fdf5cf"/>
<rect x="870.5" y="1257.9" width="111.9" height="36.3" rx="7" fill="#fdf5cf"/>
<rect x="1032.5" y="1257.9" width="143.4" height="36.3" rx="7" fill="#fdf5cf"/>
<rect x="870.5" y="1303.9" width="67.9" height="36.3" rx="7" fill="#fdf5cf"/>
<rect x="987.2" y="1303.9" width="121.2" height="36.3" rx="7" fill="#fdf5cf"/>
<rect x="1158.7" y="1303.9" width="67.9" height="36.3" rx="7" fill="#fdf5cf"/>
<rect x="1276.0" y="1303.9" width="226.7" height="36.3" rx="7" fill="#fdf5cf"/>
<rect x="565.2" y="1349.9" width="84.0" height="36.3" rx="7" fill="#fdf5cf"/>
<rect x="698.7" y="1349.9" width="168.1" height="36.3" rx="7" fill="#fdf5cf"/>
<rect x="447.7" y="1776.0" width="89.8" height="45.5" rx="8" fill="#15b47d"/>
<rect x="584.2" y="1400.9" width="77.9" height="36.3" rx="7" fill="#cdf0e2"/>
<rect x="712.0" y="1400.9" width="183.9" height="36.3" rx="7" fill="#cdf0e2"/>
<rect x="945.0" y="1400.9" width="71.7" height="36.3" rx="7" fill="#cdf0e2"/>
<rect x="1066.9" y="1400.9" width="71.9" height="36.3" rx="7" fill="#cdf0e2"/>
<rect x="584.2" y="1459.9" width="73.1" height="36.3" rx="7" fill="#cdf0e2"/>
<rect x="706.8" y="1449.0" width="314.8" height="60.1" rx="7" fill="#cdf0e2"/>
<rect x="584.2" y="1619.9" width="52.0" height="36.3" rx="7" fill="#cdf0e2"/>
<rect x="685.7" y="1608.0" width="309.4" height="60.1" rx="7" fill="#cdf0e2"/>
<rect x="1044.7" y="1519.4" width="82.0" height="36.3" rx="7" fill="#cdf0e2"/>
<rect x="1177.2" y="1519.4" width="107.1" height="36.3" rx="7" fill="#cdf0e2"/>
<rect x="1044.7" y="1577.9" width="55.7" height="36.3" rx="7" fill="#cdf0e2"/>
<rect x="1149.8" y="1566.0" width="310.5" height="60.1" rx="7" fill="#cdf0e2"/>
<rect x="1044.7" y="1649.4" width="63.8" height="36.3" rx="7" fill="#cdf0e2"/>
<rect x="1157.9" y="1637.5" width="311.3" height="60.1" rx="7" fill="#cdf0e2"/>
<rect x="1044.7" y="1720.9" width="61.8" height="36.3" rx="7" fill="#cdf0e2"/>
<rect x="1155.9" y="1709.5" width="311.3" height="60.1" rx="7" fill="#cdf0e2"/>
<rect x="584.2" y="1780.4" width="113.5" height="36.3" rx="7" fill="#cdf0e2"/>
<rect x="748.0" y="1780.4" width="236.1" height="36.3" rx="7" fill="#cdf0e2"/>
<rect x="584.2" y="1848.9" width="117.5" height="36.3" rx="7" fill="#cdf0e2"/>
<rect x="750.4" y="1848.9" width="121.3" height="36.3" rx="7" fill="#cdf0e2"/>
<rect x="921.9" y="1825.9" width="98.9" height="36.3" rx="7" fill="#cdf0e2"/>
<rect x="1071.0" y="1825.9" width="101.4" height="36.3" rx="7" fill="#cdf0e2"/>
<rect x="921.9" y="1871.9" width="64.2" height="36.3" rx="7" fill="#cdf0e2"/>
<rect x="1035.8" y="1871.9" width="179.1" height="36.3" rx="7" fill="#cdf0e2"/>
<rect x="584.2" y="1940.9" width="111.5" height="36.3" rx="7" fill="#cdf0e2"/>
<rect x="744.4" y="1940.9" width="197.2" height="36.3" rx="7" fill="#cdf0e2"/>
<rect x="992.1" y="1917.9" width="86.1" height="36.3" rx="7" fill="#cdf0e2"/>
<rect x="1128.8" y="1917.9" width="102.2" height="36.3" rx="7" fill="#cdf0e2"/>
<rect x="992.1" y="1963.9" width="65.1" height="36.3" rx="7" fill="#cdf0e2"/>
<rect x="1107.4" y="1963.9" width="66.6" height="36.3" rx="7" fill="#cdf0e2"/>
<rect x="584.2" y="2032.9" width="112.3" height="36.3" rx="7" fill="#cdf0e2"/>
<rect x="746.0" y="2032.9" width="178.2" height="36.3" rx="7" fill="#cdf0e2"/>
<rect x="974.0" y="2009.9" width="122.4" height="36.3" rx="7" fill="#cdf0e2"/>
<rect x="1147.0" y="2009.9" width="124.5" height="36.3" rx="7" fill="#cdf0e2"/>
<rect x="974.0" y="2055.8" width="128.5" height="36.3" rx="7" fill="#cdf0e2"/>
<rect x="1152.7" y="2055.8" width="120.8" height="36.3" rx="7" fill="#cdf0e2"/>
<rect x="584.2" y="2101.8" width="71.5" height="36.3" rx="7" fill="#cdf0e2"/>
<rect x="705.5" y="2101.8" width="178.3" height="36.3" rx="7" fill="#cdf0e2"/>
<rect x="933.5" y="2101.8" width="93.4" height="36.3" rx="7" fill="#cdf0e2"/>
<rect x="1076.2" y="2101.8" width="124.1" height="36.3" rx="7" fill="#cdf0e2"/>
<rect x="584.2" y="2147.8" width="79.9" height="36.3" rx="7" fill="#cdf0e2"/>
<rect x="713.6" y="2147.8" width="178.3" height="36.3" rx="7" fill="#cdf0e2"/>
<rect x="447.7" y="2229.2" width="70.3" height="45.5" rx="8" fill="#4163ea"/>
<rect x="565.2" y="2198.8" width="96.1" height="36.3" rx="7" fill="#dbe1f9"/>
<rect x="712.0" y="2198.8" width="199.3" height="36.3" rx="7" fill="#dbe1f9"/>
<rect x="961.0" y="2198.8" width="74.7" height="36.3" rx="7" fill="#dbe1f9"/>
<rect x="1086.0" y="2198.8" width="261.1" height="36.3" rx="7" fill="#dbe1f9"/>
<rect x="565.2" y="2266.8" width="81.1" height="36.3" rx="7" fill="#dbe1f9"/>
<rect x="696.7" y="2266.8" width="180.2" height="36.3" rx="7" fill="#dbe1f9"/>
<rect x="927.1" y="2244.3" width="65.5" height="36.3" rx="7" fill="#dbe1f9"/>
<rect x="1041.9" y="2244.3" width="178.6" height="36.3" rx="7" fill="#dbe1f9"/>
<rect x="927.1" y="2289.8" width="87.6" height="36.3" rx="7" fill="#dbe1f9"/>
<rect x="1064.9" y="2289.8" width="105.1" height="36.3" rx="7" fill="#dbe1f9"/>
<rect x="1219.8" y="2289.8" width="104.2" height="36.3" rx="7" fill="#dbe1f9"/>
<rect x="1373.4" y="2289.8" width="124.1" height="36.3" rx="7" fill="#dbe1f9"/>
<rect x="447.7" y="2338.8" width="70.3" height="45.5" rx="8" fill="#4a48c0"/>
<rect x="565.2" y="2343.3" width="64.6" height="36.3" rx="7" fill="#dcdcf4"/>
<rect x="679.7" y="2343.3" width="159.6" height="36.3" rx="7" fill="#dcdcf4"/>
<rect x="447.7" y="2394.2" width="70.3" height="45.5" rx="8" fill="#ef3f37"/>
<rect x="565.2" y="2398.8" width="69.8" height="36.3" rx="7" fill="#fcd9d6"/>
<rect x="685.2" y="2398.8" width="230.0" height="36.3" rx="7" fill="#fcd9d6"/>
<rect x="447.7" y="2449.8" width="70.3" height="45.5" rx="8" fill="#f2994a"/>
<rect x="565.2" y="2454.3" width="81.1" height="36.3" rx="7" fill="#fdeadb"/>
<rect x="697.5" y="2454.3" width="104.6" height="36.3" rx="7" fill="#fdeadb"/>
</g>
<g>
<rect x="448.7" y="208.8" width="68.3" height="43.5" rx="7" fill="url(#hz)"/>
<rect x="566.7" y="121.3" width="94.2" height="33.4" rx="5" fill="url(#hl)"/>
<rect x="713.4" y="121.3" width="177.7" height="33.4" rx="5" fill="url(#hl)"/>
<rect x="944.5" y="29.3" width="45.6" height="33.4" rx="5" fill="url(#hl)"/>
<rect x="1043.6" y="29.3" width="59.7" height="33.4" rx="5" fill="url(#hl)"/>
<rect x="944.5" y="75.3" width="54.6" height="33.4" rx="5" fill="url(#hl)"/>
<rect x="1052.5" y="75.3" width="62.9" height="33.4" rx="5" fill="url(#hl)"/>
<rect x="944.5" y="121.3" width="100.2" height="33.4" rx="5" fill="url(#hl)"/>
<rect x="1098.2" y="121.3" width="314.4" height="33.4" rx="5" fill="url(#hl)"/>
<rect x="944.5" y="167.3" width="97.3" height="33.4" rx="5" fill="url(#hl)"/>
<rect x="1094.9" y="167.3" width="132.9" height="33.4" rx="5" fill="url(#hl)"/>
<rect x="944.5" y="213.3" width="59.7" height="33.4" rx="5" fill="url(#hl)"/>
<rect x="1057.8" y="213.3" width="203.2" height="33.4" rx="5" fill="url(#hl)"/>
<rect x="566.7" y="259.3" width="102.1" height="33.4" rx="5" fill="url(#hl)"/>
<rect x="722.3" y="259.3" width="62.1" height="33.4" rx="5" fill="url(#hl)"/>
<rect x="837.5" y="259.3" width="56.9" height="33.4" rx="5" fill="url(#hl)"/>
<rect x="947.4" y="259.3" width="63.7" height="33.4" rx="5" fill="url(#hl)"/>
<rect x="566.7" y="305.3" width="109.4" height="33.4" rx="5" fill="url(#hl)"/>
<rect x="728.4" y="305.3" width="62.9" height="33.4" rx="5" fill="url(#hl)"/>
<rect x="448.7" y="719.8" width="68.3" height="43.5" rx="7" fill="url(#hz)"/>
<rect x="566.7" y="356.3" width="66.9" height="33.4" rx="5" fill="url(#hl)"/>
<rect x="686.7" y="356.3" width="119.6" height="33.4" rx="5" fill="url(#hl)"/>
<rect x="566.7" y="460.3" width="91.2" height="33.4" rx="5" fill="url(#hl)"/>
<rect x="711.0" y="460.3" width="82.3" height="33.4" rx="5" fill="url(#hl)"/>
<rect x="845.6" y="425.3" width="51.6" height="33.4" rx="5" fill="url(#hl)"/>
<rect x="948.6" y="425.3" width="61.7" height="33.4" rx="5" fill="url(#hl)"/>
<rect x="1062.6" y="402.3" width="90.0" height="33.4" rx="5" fill="url(#hl)"/>
<rect x="1205.3" y="402.3" width="83.2" height="33.4" rx="5" fill="url(#hl)"/>
<rect x="1062.6" y="448.3" width="112.7" height="33.4" rx="5" fill="url(#hl)"/>
<rect x="1227.6" y="448.3" width="46.3" height="33.4" rx="5" fill="url(#hl)"/>
<rect x="845.6" y="494.3" width="48.0" height="33.4" rx="5" fill="url(#hl)"/>
<rect x="946.6" y="494.3" width="63.7" height="33.4" rx="5" fill="url(#hl)"/>
<rect x="566.7" y="540.8" width="61.7" height="33.4" rx="5" fill="url(#hl)"/>
<rect x="681.9" y="540.8" width="163.2" height="33.4" rx="5" fill="url(#hl)"/>
<rect x="566.7" y="586.3" width="54.0" height="33.4" rx="5" fill="url(#hl)"/>
<rect x="673.8" y="586.3" width="62.9" height="33.4" rx="5" fill="url(#hl)"/>
<rect x="566.7" y="632.3" width="59.7" height="33.4" rx="5" fill="url(#hl)"/>
<rect x="679.1" y="632.3" width="63.7" height="33.4" rx="5" fill="url(#hl)"/>
<rect x="566.7" y="678.3" width="45.9" height="33.4" rx="5" fill="url(#hl)"/>
<rect x="665.7" y="678.3" width="306.7" height="33.4" rx="5" fill="url(#hl)"/>
<rect x="1025.4" y="678.3" width="66.6" height="33.4" rx="5" fill="url(#hl)"/>
<rect x="1144.3" y="678.3" width="101.7" height="33.4" rx="5" fill="url(#hl)"/>
<rect x="566.7" y="724.3" width="46.7" height="33.4" rx="5" fill="url(#hl)"/>
<rect x="665.7" y="724.3" width="160.0" height="33.4" rx="5" fill="url(#hl)"/>
<rect x="878.0" y="724.3" width="136.4" height="33.4" rx="5" fill="url(#hl)"/>
<rect x="1066.7" y="724.3" width="85.1" height="33.4" rx="5" fill="url(#hl)"/>
<rect x="566.7" y="770.3" width="73.0" height="33.4" rx="5" fill="url(#hl)"/>
<rect x="693.2" y="770.3" width="120.3" height="33.4" rx="5" fill="url(#hl)"/>
<rect x="566.7" y="838.3" width="79.9" height="33.4" rx="5" fill="url(#hl)"/>
<rect x="699.3" y="838.3" width="274.3" height="33.4" rx="5" fill="url(#hl)"/>
<rect x="1026.2" y="815.3" width="61.7" height="33.4" rx="5" fill="url(#hl)"/>
<rect x="1141.4" y="815.3" width="214.6" height="33.4" rx="5" fill="url(#hl)"/>
<rect x="1026.2" y="861.3" width="73.1" height="33.4" rx="5" fill="url(#hl)"/>
<rect x="1150.7" y="861.3" width="65.0" height="33.4" rx="5" fill="url(#hl)"/>
<rect x="566.7" y="907.3" width="85.1" height="33.4" rx="5" fill="url(#hl)"/>
<rect x="704.1" y="907.3" width="198.4" height="33.4" rx="5" fill="url(#hl)"/>
<rect x="566.7" y="976.3" width="123.5" height="33.4" rx="5" fill="url(#hl)"/>
<rect x="743.3" y="976.3" width="160.0" height="33.4" rx="5" fill="url(#hl)"/>
<rect x="955.5" y="953.3" width="71.8" height="33.4" rx="5" fill="url(#hl)"/>
<rect x="1080.0" y="953.3" width="63.7" height="33.4" rx="5" fill="url(#hl)"/>
<rect x="955.5" y="999.3" width="77.0" height="33.4" rx="5" fill="url(#hl)"/>
<rect x="1084.8" y="999.3" width="69.8" height="33.4" rx="5" fill="url(#hl)"/>
<rect x="566.7" y="1045.3" width="70.2" height="33.4" rx="5" fill="url(#hl)"/>
<rect x="689.2" y="1045.3" width="126.4" height="33.4" rx="5" fill="url(#hl)"/>
<rect x="566.7" y="1103.8" width="66.1" height="33.4" rx="5" fill="url(#hl)"/>
<rect x="685.1" y="1092.4" width="325.2" height="57.2" rx="5" fill="url(#hl)"/>
<rect x="1062.6" y="1103.8" width="48.8" height="33.4" rx="5" fill="url(#hl)"/>
<rect x="1164.9" y="1103.8" width="83.2" height="33.4" rx="5" fill="url(#hl)"/>
<rect x="448.7" y="1254.8" width="68.3" height="43.5" rx="7" fill="url(#hz)"/>
<rect x="566.7" y="1167.3" width="77.8" height="33.4" rx="5" fill="url(#hl)"/>
<rect x="697.2" y="1167.3" width="212.6" height="33.4" rx="5" fill="url(#hl)"/>
<rect x="962.4" y="1167.3" width="104.2" height="33.4" rx="5" fill="url(#hl)"/>
<rect x="1119.7" y="1167.3" width="276.4" height="33.4" rx="5" fill="url(#hl)"/>
<rect x="566.7" y="1213.3" width="48.7" height="33.4" rx="5" fill="url(#hl)"/>
<rect x="667.7" y="1213.3" width="153.9" height="33.4" rx="5" fill="url(#hl)"/>
<rect x="566.7" y="1282.3" width="81.9" height="33.4" rx="5" fill="url(#hl)"/>
<rect x="701.3" y="1282.3" width="118.3" height="33.4" rx="5" fill="url(#hl)"/>
<rect x="871.9" y="1259.3" width="109.0" height="33.4" rx="5" fill="url(#hl)"/>
<rect x="1034.0" y="1259.3" width="140.5" height="33.4" rx="5" fill="url(#hl)"/>
<rect x="871.9" y="1305.3" width="65.0" height="33.4" rx="5" fill="url(#hl)"/>
<rect x="988.7" y="1305.3" width="118.3" height="33.4" rx="5" fill="url(#hl)"/>
<rect x="1160.1" y="1305.3" width="65.0" height="33.4" rx="5" fill="url(#hl)"/>
<rect x="1277.4" y="1305.3" width="223.8" height="33.4" rx="5" fill="url(#hl)"/>
<rect x="566.7" y="1351.3" width="81.1" height="33.4" rx="5" fill="url(#hl)"/>
<rect x="700.1" y="1351.3" width="165.2" height="33.4" rx="5" fill="url(#hl)"/>
<rect x="448.7" y="1777.0" width="87.8" height="43.5" rx="7" fill="url(#hz)"/>
<rect x="585.7" y="1402.3" width="75.0" height="33.4" rx="5" fill="url(#hl)"/>
<rect x="713.4" y="1402.3" width="181.0" height="33.4" rx="5" fill="url(#hl)"/>
<rect x="946.4" y="1402.3" width="68.8" height="33.4" rx="5" fill="url(#hl)"/>
<rect x="1068.3" y="1402.3" width="69.0" height="33.4" rx="5" fill="url(#hl)"/>
<rect x="585.7" y="1461.3" width="70.2" height="33.4" rx="5" fill="url(#hl)"/>
<rect x="708.2" y="1450.4" width="311.9" height="57.2" rx="5" fill="url(#hl)"/>
<rect x="585.7" y="1621.3" width="49.1" height="33.4" rx="5" fill="url(#hl)"/>
<rect x="687.1" y="1609.4" width="306.5" height="57.2" rx="5" fill="url(#hl)"/>
<rect x="1046.1" y="1520.8" width="79.1" height="33.4" rx="5" fill="url(#hl)"/>
<rect x="1178.7" y="1520.8" width="104.2" height="33.4" rx="5" fill="url(#hl)"/>
<rect x="1046.1" y="1579.3" width="52.8" height="33.4" rx="5" fill="url(#hl)"/>
<rect x="1151.2" y="1567.4" width="307.6" height="57.2" rx="5" fill="url(#hl)"/>
<rect x="1046.1" y="1650.8" width="60.9" height="33.4" rx="5" fill="url(#hl)"/>
<rect x="1159.3" y="1639.0" width="308.4" height="57.2" rx="5" fill="url(#hl)"/>
<rect x="1046.1" y="1722.3" width="58.9" height="33.4" rx="5" fill="url(#hl)"/>
<rect x="1157.3" y="1710.9" width="308.4" height="57.2" rx="5" fill="url(#hl)"/>
<rect x="585.7" y="1781.8" width="110.6" height="33.4" rx="5" fill="url(#hl)"/>
<rect x="749.4" y="1781.8" width="233.2" height="33.4" rx="5" fill="url(#hl)"/>
<rect x="585.7" y="1850.3" width="114.6" height="33.4" rx="5" fill="url(#hl)"/>
<rect x="751.8" y="1850.3" width="118.4" height="33.4" rx="5" fill="url(#hl)"/>
<rect x="923.3" y="1827.3" width="96.0" height="33.4" rx="5" fill="url(#hl)"/>
<rect x="1072.4" y="1827.3" width="98.5" height="33.4" rx="5" fill="url(#hl)"/>
<rect x="923.3" y="1873.3" width="61.3" height="33.4" rx="5" fill="url(#hl)"/>
<rect x="1037.2" y="1873.3" width="176.2" height="33.4" rx="5" fill="url(#hl)"/>
<rect x="585.7" y="1942.3" width="108.6" height="33.4" rx="5" fill="url(#hl)"/>
<rect x="745.8" y="1942.3" width="194.3" height="33.4" rx="5" fill="url(#hl)"/>
<rect x="993.5" y="1919.3" width="83.2" height="33.4" rx="5" fill="url(#hl)"/>
<rect x="1130.2" y="1919.3" width="99.3" height="33.4" rx="5" fill="url(#hl)"/>
<rect x="993.5" y="1965.3" width="62.2" height="33.4" rx="5" fill="url(#hl)"/>
<rect x="1108.8" y="1965.3" width="63.7" height="33.4" rx="5" fill="url(#hl)"/>
<rect x="585.7" y="2034.3" width="109.4" height="33.4" rx="5" fill="url(#hl)"/>
<rect x="747.4" y="2034.3" width="175.3" height="33.4" rx="5" fill="url(#hl)"/>
<rect x="975.4" y="2011.3" width="119.5" height="33.4" rx="5" fill="url(#hl)"/>
<rect x="1148.4" y="2011.3" width="121.6" height="33.4" rx="5" fill="url(#hl)"/>
<rect x="975.4" y="2057.3" width="125.6" height="33.4" rx="5" fill="url(#hl)"/>
<rect x="1154.1" y="2057.3" width="117.9" height="33.4" rx="5" fill="url(#hl)"/>
<rect x="585.7" y="2103.3" width="68.6" height="33.4" rx="5" fill="url(#hl)"/>
<rect x="706.9" y="2103.3" width="175.4" height="33.4" rx="5" fill="url(#hl)"/>
<rect x="934.9" y="2103.3" width="90.5" height="33.4" rx="5" fill="url(#hl)"/>
<rect x="1077.6" y="2103.3" width="121.2" height="33.4" rx="5" fill="url(#hl)"/>
<rect x="585.7" y="2149.3" width="77.0" height="33.4" rx="5" fill="url(#hl)"/>
<rect x="715.0" y="2149.3" width="175.4" height="33.4" rx="5" fill="url(#hl)"/>
<rect x="448.7" y="2230.2" width="68.3" height="43.5" rx="7" fill="url(#hz)"/>
<rect x="566.7" y="2200.3" width="93.2" height="33.4" rx="5" fill="url(#hl)"/>
<rect x="713.4" y="2200.3" width="196.4" height="33.4" rx="5" fill="url(#hl)"/>
<rect x="962.4" y="2200.3" width="71.8" height="33.4" rx="5" fill="url(#hl)"/>
<rect x="1087.4" y="2200.3" width="258.2" height="33.4" rx="5" fill="url(#hl)"/>
<rect x="566.7" y="2268.3" width="78.2" height="33.4" rx="5" fill="url(#hl)"/>
<rect x="698.1" y="2268.3" width="177.3" height="33.4" rx="5" fill="url(#hl)"/>
<rect x="928.5" y="2245.8" width="62.6" height="33.4" rx="5" fill="url(#hl)"/>
<rect x="1043.3" y="2245.8" width="175.7" height="33.4" rx="5" fill="url(#hl)"/>
<rect x="928.5" y="2291.3" width="84.7" height="33.4" rx="5" fill="url(#hl)"/>
<rect x="1066.3" y="2291.3" width="102.2" height="33.4" rx="5" fill="url(#hl)"/>
<rect x="1221.2" y="2291.3" width="101.3" height="33.4" rx="5" fill="url(#hl)"/>
<rect x="1374.8" y="2291.3" width="121.2" height="33.4" rx="5" fill="url(#hl)"/>
<rect x="448.7" y="2339.8" width="68.3" height="43.5" rx="7" fill="url(#hz)"/>
<rect x="566.7" y="2344.8" width="61.7" height="33.4" rx="5" fill="url(#hl)"/>
<rect x="681.1" y="2344.8" width="156.7" height="33.4" rx="5" fill="url(#hl)"/>
<rect x="448.7" y="2395.2" width="68.3" height="43.5" rx="7" fill="url(#hz)"/>
<rect x="566.7" y="2400.3" width="66.9" height="33.4" rx="5" fill="url(#hl)"/>
<rect x="686.7" y="2400.3" width="227.1" height="33.4" rx="5" fill="url(#hl)"/>
<rect x="448.7" y="2450.8" width="68.3" height="43.5" rx="7" fill="url(#hz)"/>
<rect x="566.7" y="2455.8" width="78.2" height="33.4" rx="5" fill="url(#hl)"/>
<rect x="698.9" y="2455.8" width="101.7" height="33.4" rx="5" fill="url(#hl)"/>
</g>
<use href="#B" filter="url(#r1)"/>
<use href="#B" filter="url(#r2)"/>
<g stroke-linejoin="round" class="n">
<text x="482.9" y="236.5" text-anchor="middle" font-size="17.5" font-weight="500" fill="#ffffff" stroke="#ffffff" textLength="35.3" lengthAdjust="spacingAndGlyphs">地点</text>
<text x="571.1" y="143.9" font-size="20" fill="#4a0d0c" stroke="#4a0d0c" textLength="85.4" lengthAdjust="spacingAndGlyphs">restroom</text>
<text y="143.9" font-size="20" fill="#4a0d0c" stroke="#4a0d0c"><tspan x="717.8" textLength="18.3" lengthAdjust="spacingAndGlyphs">n.</tspan><tspan x="737.7" font-size="17" textLength="149.0" lengthAdjust="spacing">洗手间；公共厕所</tspan></text>
<text x="948.9" y="51.9" font-size="20" fill="#4a0d0c" stroke="#4a0d0c" textLength="36.8" lengthAdjust="spacingAndGlyphs">rest</text>
<text y="51.9" font-size="20" fill="#4a0d0c" stroke="#4a0d0c"><tspan x="1048.0" textLength="14.7" lengthAdjust="spacingAndGlyphs">v.</tspan><tspan x="1064.2" font-size="17" textLength="34.7" lengthAdjust="spacing">休息</tspan></text>
<text x="948.9" y="97.9" font-size="20" fill="#4a0d0c" stroke="#4a0d0c" textLength="45.8" lengthAdjust="spacingAndGlyphs">room</text>
<text y="97.9" font-size="20" fill="#4a0d0c" stroke="#4a0d0c"><tspan x="1056.9" textLength="17.6" lengthAdjust="spacingAndGlyphs">n.</tspan><tspan x="1076.0" font-size="17" textLength="35.0" lengthAdjust="spacing">房间</tspan></text>
<text x="948.9" y="143.9" font-size="20" fill="#4a0d0c" stroke="#4a0d0c" textLength="91.4" lengthAdjust="spacingAndGlyphs">washroom</text>
<text y="143.9" font-size="20" fill="#4a0d0c" stroke="#4a0d0c"><tspan x="1102.6" textLength="18.6" lengthAdjust="spacingAndGlyphs">n.</tspan><tspan x="1122.8" font-size="17" textLength="285.4" lengthAdjust="spacing">（公共建筑物内的）洗手间，厕所</tspan></text>
<text x="948.9" y="189.9" font-size="20" fill="#4a0d0c" stroke="#4a0d0c" textLength="88.5" lengthAdjust="spacingAndGlyphs">bathroom</text>
<text y="189.9" font-size="20" fill="#4a0d0c" stroke="#4a0d0c"><tspan x="1099.3" textLength="18.1" lengthAdjust="spacingAndGlyphs">n.</tspan><tspan x="1123.6" font-size="17" textLength="36.1" lengthAdjust="spacing">浴室</tspan><tspan x="1161.2" textLength="6.0" lengthAdjust="spacingAndGlyphs">;</tspan><tspan x="1168.8" font-size="17" textLength="54.6" lengthAdjust="spacing">盥洗室</tspan></text>
<text x="948.9" y="235.9" font-size="20" fill="#4a0d0c" stroke="#4a0d0c" textLength="50.9" lengthAdjust="spacingAndGlyphs">toilet</text>
<text y="235.9" font-size="20" fill="#4a0d0c" stroke="#4a0d0c"><tspan x="1062.2" textLength="18.5" lengthAdjust="spacingAndGlyphs">n.</tspan><tspan x="1087.0" font-size="17" textLength="169.6" lengthAdjust="spacing">厕所；马桶；座便器</tspan></text>
<text x="571.1" y="281.9" font-size="20" fill="#4a0d0c" stroke="#4a0d0c" textLength="93.3" lengthAdjust="spacingAndGlyphs">bookstore</text>
<text y="281.9" font-size="20" fill="#4a0d0c" stroke="#4a0d0c"><tspan x="726.7" textLength="17.3" lengthAdjust="spacingAndGlyphs">n.</tspan><tspan x="745.5" font-size="17" textLength="34.5" lengthAdjust="spacing">书店</tspan></text>
<text x="841.9" y="281.9" font-size="20" fill="#4a0d0c" stroke="#4a0d0c" textLength="48.1" lengthAdjust="spacingAndGlyphs">store</text>
<text y="281.9" font-size="20" fill="#4a0d0c" stroke="#4a0d0c"><tspan x="951.8" textLength="17.8" lengthAdjust="spacingAndGlyphs">n.</tspan><tspan x="971.2" font-size="17" textLength="35.5" lengthAdjust="spacing">商店</tspan></text>
<text x="571.1" y="327.9" font-size="20" fill="#4a0d0c" stroke="#4a0d0c" textLength="100.6" lengthAdjust="spacingAndGlyphs">parking lot</text>
<text y="327.9" font-size="20" fill="#4a0d0c" stroke="#4a0d0c"><tspan x="732.8" font-size="17" textLength="54.1" lengthAdjust="spacing">停车场</tspan></text>
<text x="482.9" y="747.5" text-anchor="middle" font-size="17.5" font-weight="500" fill="#2a1503" stroke="#2a1503" textLength="35.3" lengthAdjust="spacingAndGlyphs">名词</text>
<text x="571.1" y="378.9" font-size="20" fill="#3f2508" stroke="#3f2508" textLength="58.1" lengthAdjust="spacingAndGlyphs">stamp</text>
<text y="378.9" font-size="20" fill="#3f2508" stroke="#3f2508"><tspan x="691.1" textLength="18.0" lengthAdjust="spacingAndGlyphs">n.</tspan><tspan x="710.6" font-size="17" textLength="91.3" lengthAdjust="spacing">邮票；印章</tspan></text>
<text x="571.1" y="482.9" font-size="20" fill="#3f2508" stroke="#3f2508" textLength="82.4" lengthAdjust="spacingAndGlyphs">postcard</text>
<text y="482.9" font-size="20" fill="#3f2508" stroke="#3f2508"><tspan x="715.4" textLength="17.9" lengthAdjust="spacingAndGlyphs">n.</tspan><tspan x="734.8" font-size="17" textLength="54.1" lengthAdjust="spacing">明信片</tspan></text>
<text x="850.0" y="447.9" font-size="20" fill="#3f2508" stroke="#3f2508" textLength="42.8" lengthAdjust="spacingAndGlyphs">post</text>
<text y="447.9" font-size="20" fill="#3f2508" stroke="#3f2508"><tspan x="953.0" textLength="15.3" lengthAdjust="spacingAndGlyphs">v.</tspan><tspan x="969.8" font-size="17" textLength="36.1" lengthAdjust="spacing">邮寄</tspan></text>
<text x="1067.0" y="424.9" font-size="20" fill="#3f2508" stroke="#3f2508" textLength="81.2" lengthAdjust="spacingAndGlyphs">postman</text>
<text y="424.9" font-size="20" fill="#3f2508" stroke="#3f2508"><tspan x="1209.7" textLength="18.1" lengthAdjust="spacingAndGlyphs">n.</tspan><tspan x="1229.4" font-size="17" textLength="54.7" lengthAdjust="spacing">邮递员</tspan></text>
<text x="1067.0" y="470.9" font-size="20" fill="#3f2508" stroke="#3f2508" textLength="103.9" lengthAdjust="spacingAndGlyphs">post office</text>
<text y="470.9" font-size="20" fill="#3f2508" stroke="#3f2508"><tspan x="1232.0" font-size="17" textLength="37.5" lengthAdjust="spacing">邮局</tspan></text>
<text x="850.0" y="516.9" font-size="20" fill="#3f2508" stroke="#3f2508" textLength="39.2" lengthAdjust="spacingAndGlyphs">card</text>
<text y="516.9" font-size="20" fill="#3f2508" stroke="#3f2508"><tspan x="951.0" textLength="17.8" lengthAdjust="spacingAndGlyphs">n.</tspan><tspan x="970.4" font-size="17" textLength="35.5" lengthAdjust="spacing">卡片</tspan></text>
<text x="571.1" y="563.4" font-size="20" fill="#3f2508" stroke="#3f2508" textLength="52.9" lengthAdjust="spacingAndGlyphs">staff</text>
<text y="563.4" font-size="20" fill="#3f2508" stroke="#3f2508"><tspan x="686.3" textLength="18.3" lengthAdjust="spacingAndGlyphs">n.</tspan><tspan x="710.8" font-size="17" textLength="129.9" lengthAdjust="spacing">管理人员；职工</tspan></text>
<text x="571.1" y="608.9" font-size="20" fill="#3f2508" stroke="#3f2508" textLength="45.2" lengthAdjust="spacingAndGlyphs">clerk</text>
<text y="608.9" font-size="20" fill="#3f2508" stroke="#3f2508"><tspan x="678.2" textLength="17.6" lengthAdjust="spacingAndGlyphs">n.</tspan><tspan x="697.3" font-size="17" textLength="35.0" lengthAdjust="spacing">职员</tspan></text>
<text x="571.1" y="654.9" font-size="20" fill="#3f2508" stroke="#3f2508" textLength="50.9" lengthAdjust="spacingAndGlyphs">grape</text>
<text y="654.9" font-size="20" fill="#3f2508" stroke="#3f2508"><tspan x="683.5" textLength="17.8" lengthAdjust="spacingAndGlyphs">n.</tspan><tspan x="702.9" font-size="17" textLength="35.5" lengthAdjust="spacing">葡萄</tspan></text>
<text x="571.1" y="700.9" font-size="20" fill="#3f2508" stroke="#3f2508" textLength="37.1" lengthAdjust="spacingAndGlyphs">mail</text>
<text y="700.9" font-size="20" fill="#3f2508" stroke="#3f2508"><tspan x="670.1" textLength="15.7" lengthAdjust="spacingAndGlyphs">v.</tspan><tspan x="692.1" font-size="17" textLength="151.1" lengthAdjust="spacing">邮寄；发电子邮件</tspan><tspan x="853.8" textLength="18.6" lengthAdjust="spacingAndGlyphs">n.</tspan><tspan x="873.9" font-size="17" textLength="94.1" lengthAdjust="spacing">邮件；信件</tspan></text>
<text x="1029.8" y="700.9" font-size="20" fill="#3f2508" stroke="#3f2508" textLength="57.8" lengthAdjust="spacingAndGlyphs">e-mail</text>
<text y="700.9" font-size="20" fill="#3f2508" stroke="#3f2508"><tspan x="1148.7" textLength="18.1" lengthAdjust="spacingAndGlyphs">n.</tspan><tspan x="1168.4" font-size="17" textLength="73.2" lengthAdjust="spacing">电子邮件</tspan></text>
<text x="571.1" y="746.9" font-size="20" fill="#3f2508" stroke="#3f2508" textLength="37.9" lengthAdjust="spacingAndGlyphs">mall</text>
<text y="746.9" font-size="20" fill="#3f2508" stroke="#3f2508"><tspan x="670.1" textLength="18.4" lengthAdjust="spacingAndGlyphs">n.</tspan><tspan x="690.1" font-size="17" textLength="131.2" lengthAdjust="spacing">商场；购物中心</tspan></text>
<text x="882.4" y="746.9" font-size="20" fill="#3f2508" stroke="#3f2508" textLength="127.6" lengthAdjust="spacingAndGlyphs">shopping mall</text>
<text y="746.9" font-size="20" fill="#3f2508" stroke="#3f2508"><tspan x="1071.1" font-size="17" textLength="76.3" lengthAdjust="spacing">购物中心</tspan></text>
<text x="571.1" y="792.9" font-size="20" fill="#3f2508" stroke="#3f2508" textLength="64.2" lengthAdjust="spacingAndGlyphs">corner</text>
<text y="792.9" font-size="20" fill="#3f2508" stroke="#3f2508"><tspan x="697.6" textLength="18.1" lengthAdjust="spacingAndGlyphs">n.</tspan><tspan x="717.3" font-size="17" textLength="91.8" lengthAdjust="spacing">拐角；角落</tspan></text>
<text x="571.1" y="860.9" font-size="20" fill="#3f2508" stroke="#3f2508" textLength="71.1" lengthAdjust="spacingAndGlyphs">speaker</text>
<text y="860.9" font-size="20" fill="#3f2508" stroke="#3f2508"><tspan x="703.7" textLength="18.5" lengthAdjust="spacingAndGlyphs">n.</tspan><tspan x="723.8" font-size="17" textLength="245.4" lengthAdjust="spacing">讲（某种语言的）人，发言者</tspan></text>
<text x="1030.6" y="837.9" font-size="20" fill="#3f2508" stroke="#3f2508" textLength="52.9" lengthAdjust="spacingAndGlyphs">speak</text>
<text y="837.9" font-size="20" fill="#3f2508" stroke="#3f2508"><tspan x="1145.8" textLength="15.6" lengthAdjust="spacingAndGlyphs">v.</tspan><tspan x="1163.0" font-size="17" textLength="188.6" lengthAdjust="spacing">说（某种语言）；演讲</tspan></text>
<text x="1030.6" y="883.9" font-size="20" fill="#3f2508" stroke="#3f2508" textLength="64.3" lengthAdjust="spacingAndGlyphs">speech</text>
<text y="883.9" font-size="20" fill="#3f2508" stroke="#3f2508"><tspan x="1155.1" textLength="18.3" lengthAdjust="spacingAndGlyphs">n.</tspan><tspan x="1174.9" font-size="17" textLength="36.4" lengthAdjust="spacing">演讲</tspan></text>
<text x="571.1" y="929.9" font-size="20" fill="#3f2508" stroke="#3f2508" textLength="76.3" lengthAdjust="spacingAndGlyphs">address</text>
<text y="929.9" font-size="20" fill="#3f2508" stroke="#3f2508"><tspan x="708.5" textLength="18.5" lengthAdjust="spacingAndGlyphs">n.</tspan><tspan x="728.6" font-size="17" textLength="169.5" lengthAdjust="spacing">地址；住址；通讯处</tspan></text>
<text x="571.1" y="998.9" font-size="20" fill="#3f2508" stroke="#3f2508" textLength="114.7" lengthAdjust="spacingAndGlyphs">underground</text>
<text y="998.9" font-size="20" fill="#3f2508" stroke="#3f2508"><tspan x="747.7" textLength="33.7" lengthAdjust="spacingAndGlyphs">adj.</tspan><tspan x="782.8" font-size="17" textLength="52.5" lengthAdjust="spacing">地下的</tspan><tspan x="845.3" textLength="17.4" lengthAdjust="spacingAndGlyphs">n.</tspan><tspan x="864.2" font-size="17" textLength="34.7" lengthAdjust="spacing">地铁</tspan></text>
<text x="959.9" y="975.9" font-size="20" fill="#3f2508" stroke="#3f2508" textLength="63.0" lengthAdjust="spacingAndGlyphs">ground</text>
<text y="975.9" font-size="20" fill="#3f2508" stroke="#3f2508"><tspan x="1084.4" textLength="17.8" lengthAdjust="spacingAndGlyphs">n.</tspan><tspan x="1103.8" font-size="17" textLength="35.5" lengthAdjust="spacing">地板</tspan></text>
<text x="959.9" y="1021.9" font-size="20" fill="#3f2508" stroke="#3f2508" textLength="68.2" lengthAdjust="spacingAndGlyphs">subway</text>
<text y="1021.9" font-size="20" fill="#3f2508" stroke="#3f2508"><tspan x="1089.2" textLength="18.3" lengthAdjust="spacingAndGlyphs">n.</tspan><tspan x="1113.7" font-size="17" textLength="36.5" lengthAdjust="spacing">地铁</tspan></text>
<text x="571.1" y="1067.9" font-size="20" fill="#3f2508" stroke="#3f2508" textLength="61.4" lengthAdjust="spacingAndGlyphs">course</text>
<text y="1067.9" font-size="20" fill="#3f2508" stroke="#3f2508"><tspan x="693.6" textLength="18.4" lengthAdjust="spacingAndGlyphs">n.</tspan><tspan x="718.2" font-size="17" textLength="93.0" lengthAdjust="spacing">课程；学科</tspan></text>
<text x="571.1" y="1126.4" font-size="20" fill="#3f2508" stroke="#3f2508" textLength="57.3" lengthAdjust="spacingAndGlyphs">Italian</text>
<text y="1113.9" font-size="20" fill="#3f2508" stroke="#3f2508"><tspan x="689.5" textLength="35.5" lengthAdjust="spacingAndGlyphs">adj.</tspan><tspan x="731.2" font-size="17" textLength="130.6" lengthAdjust="spacing">意大利（人）的</tspan><tspan x="872.2" textLength="18.3" lengthAdjust="spacingAndGlyphs">n.</tspan><tspan x="892.1" font-size="17" textLength="111.8" lengthAdjust="spacing">意大利；意大</tspan></text>
<text y="1139.9" font-size="20" fill="#3f2508" stroke="#3f2508"><tspan x="690.5" font-size="17" textLength="35.0" lengthAdjust="spacing">利语</tspan></text>
<text x="1067.0" y="1126.4" font-size="20" fill="#3f2508" stroke="#3f2508" textLength="40.0" lengthAdjust="spacingAndGlyphs">Italy</text>
<text y="1126.4" font-size="20" fill="#3f2508" stroke="#3f2508"><tspan x="1169.3" textLength="18.1" lengthAdjust="spacingAndGlyphs">n.</tspan><tspan x="1189.0" font-size="17" textLength="54.7" lengthAdjust="spacing">意大利</tspan></text>
<text x="482.9" y="1282.5" text-anchor="middle" font-size="17.5" font-weight="500" fill="#2c2400" stroke="#2c2400" textLength="35.3" lengthAdjust="spacingAndGlyphs">动词</text>
<text x="571.1" y="1189.9" font-size="20" fill="#463a0a" stroke="#463a0a" textLength="62.0" lengthAdjust="spacingAndGlyphs">pardon</text>
<text y="1189.9" font-size="20" fill="#463a0a" stroke="#463a0a"><tspan x="701.6" textLength="15.9" lengthAdjust="spacingAndGlyphs">v.</tspan><tspan x="719.1" font-size="17" textLength="37.6" lengthAdjust="spacing">原谅</tspan><tspan x="767.4" textLength="55.3" lengthAdjust="spacingAndGlyphs">interj.</tspan><tspan x="829.2" font-size="17" textLength="76.2" lengthAdjust="spacing">再说一遍</tspan></text>
<text x="966.8" y="1189.9" font-size="20" fill="#463a0a" stroke="#463a0a" textLength="95.4" lengthAdjust="spacingAndGlyphs">pardon me</text>
<text y="1189.9" font-size="20" fill="#463a0a" stroke="#463a0a"><tspan x="1124.1" font-size="17" textLength="267.6" lengthAdjust="spacing">抱歉；对不起；什么，再说一遍</tspan></text>
<text x="571.1" y="1235.9" font-size="20" fill="#463a0a" stroke="#463a0a" textLength="39.9" lengthAdjust="spacingAndGlyphs">rush</text>
<text y="1235.9" font-size="20" fill="#463a0a" stroke="#463a0a"><tspan x="672.1" textLength="47.6" lengthAdjust="spacingAndGlyphs">v.&amp;n.</tspan><tspan x="725.9" font-size="17" textLength="91.3" lengthAdjust="spacing">仓促；急促</tspan></text>
<text x="571.1" y="1304.9" font-size="20" fill="#463a0a" stroke="#463a0a" textLength="73.1" lengthAdjust="spacingAndGlyphs">suggest</text>
<text y="1304.9" font-size="20" fill="#463a0a" stroke="#463a0a"><tspan x="705.7" textLength="15.4" lengthAdjust="spacingAndGlyphs">v.</tspan><tspan x="722.7" font-size="17" textLength="92.5" lengthAdjust="spacing">建议；提议</tspan></text>
<text x="876.3" y="1281.9" font-size="20" fill="#463a0a" stroke="#463a0a" textLength="100.2" lengthAdjust="spacingAndGlyphs">suggestion</text>
<text y="1281.9" font-size="20" fill="#463a0a" stroke="#463a0a"><tspan x="1038.4" textLength="18.3" lengthAdjust="spacingAndGlyphs">n.</tspan><tspan x="1058.3" font-size="17" textLength="111.8" lengthAdjust="spacing">建议（可数）</tspan></text>
<text x="876.3" y="1327.9" font-size="20" fill="#463a0a" stroke="#463a0a" textLength="56.2" lengthAdjust="spacingAndGlyphs">advise</text>
<text y="1327.9" font-size="20" fill="#463a0a" stroke="#463a0a"><tspan x="993.1" textLength="15.4" lengthAdjust="spacingAndGlyphs">v.</tspan><tspan x="1010.1" font-size="17" textLength="92.5" lengthAdjust="spacing">建议；劝告</tspan></text>
<text x="1164.5" y="1327.9" font-size="20" fill="#463a0a" stroke="#463a0a" textLength="56.2" lengthAdjust="spacingAndGlyphs">advice</text>
<text y="1327.9" font-size="20" fill="#463a0a" stroke="#463a0a"><tspan x="1281.8" textLength="18.6" lengthAdjust="spacingAndGlyphs">n.</tspan><tspan x="1306.8" font-size="17" textLength="190.0" lengthAdjust="spacing">建议；劝告（不可数）</tspan></text>
<text x="571.1" y="1373.9" font-size="20" fill="#463a0a" stroke="#463a0a" textLength="72.3" lengthAdjust="spacingAndGlyphs">request</text>
<text y="1373.9" font-size="20" fill="#463a0a" stroke="#463a0a"><tspan x="704.5" textLength="59.4" lengthAdjust="spacingAndGlyphs">n. &amp; v.</tspan><tspan x="770.0" font-size="17" textLength="90.9" lengthAdjust="spacing">要求；请求</tspan></text>
<text x="492.6" y="1804.8" text-anchor="middle" font-size="17.5" font-weight="500" fill="#063d28" stroke="#063d28" textLength="54.8" lengthAdjust="spacingAndGlyphs">形容词</text>
<text x="590.1" y="1424.9" font-size="20" fill="#0c533a" stroke="#0c533a" textLength="66.2" lengthAdjust="spacingAndGlyphs">central</text>
<text y="1424.9" font-size="20" fill="#0c533a" stroke="#0c533a"><tspan x="717.8" textLength="35.4" lengthAdjust="spacingAndGlyphs">adj.</tspan><tspan x="759.5" font-size="17" textLength="130.5" lengthAdjust="spacing">中心的；中央的</tspan></text>
<text x="950.8" y="1424.9" font-size="20" fill="#0c533a" stroke="#0c533a" textLength="60.0" lengthAdjust="spacingAndGlyphs">center</text>
<text y="1424.9" font-size="20" fill="#0c533a" stroke="#0c533a"><tspan x="1072.7" textLength="18.1" lengthAdjust="spacingAndGlyphs">n.</tspan><tspan x="1096.9" font-size="17" textLength="36.0" lengthAdjust="spacing">中心</tspan></text>
<text x="590.1" y="1483.9" font-size="20" fill="#0c533a" stroke="#0c533a" textLength="61.4" lengthAdjust="spacingAndGlyphs">nearby</text>
<text y="1471.9" font-size="20" fill="#0c533a" stroke="#0c533a"><tspan x="712.6" textLength="35.2" lengthAdjust="spacingAndGlyphs">adj.</tspan><tspan x="754.1" font-size="17" textLength="129.7" lengthAdjust="spacing">附近的；邻近的</tspan><tspan x="894.1" textLength="39.7" lengthAdjust="spacingAndGlyphs">adv.</tspan><tspan x="940.0" font-size="17" textLength="73.7" lengthAdjust="spacing">在附近；</tspan></text>
<text y="1497.9" font-size="20" fill="#0c533a" stroke="#0c533a"><tspan x="713.6" font-size="17" textLength="35.0" lengthAdjust="spacing">附近</tspan></text>
<text x="590.1" y="1643.9" font-size="20" fill="#0c533a" stroke="#0c533a" textLength="40.3" lengthAdjust="spacingAndGlyphs">east</text>
<text y="1630.9" font-size="20" fill="#0c533a" stroke="#0c533a"><tspan x="691.5" textLength="35.1" lengthAdjust="spacingAndGlyphs">adj.</tspan><tspan x="728.2" font-size="17" textLength="129.4" lengthAdjust="spacing">东方的；东部的</tspan><tspan x="867.9" textLength="39.6" lengthAdjust="spacingAndGlyphs">adv.</tspan><tspan x="913.7" font-size="17" textLength="73.5" lengthAdjust="spacing">向东；朝</tspan></text>
<text y="1656.9" font-size="20" fill="#0c533a" stroke="#0c533a"><tspan x="692.5" font-size="17">东</tspan><tspan x="720.5" textLength="18.2" lengthAdjust="spacingAndGlyphs">n.</tspan><tspan x="744.9" font-size="17" textLength="73.6" lengthAdjust="spacing">东；东方</tspan></text>
<text x="1050.5" y="1543.4" font-size="20" fill="#0c533a" stroke="#0c533a" textLength="70.3" lengthAdjust="spacingAndGlyphs">eastern</text>
<text y="1543.4" font-size="20" fill="#0c533a" stroke="#0c533a"><tspan x="1183.1" textLength="34.8" lengthAdjust="spacingAndGlyphs">adj.</tspan><tspan x="1224.1" font-size="17" textLength="54.4" lengthAdjust="spacing">东方的</tspan></text>
<text x="1050.5" y="1601.9" font-size="20" fill="#0c533a" stroke="#0c533a" textLength="44.0" lengthAdjust="spacingAndGlyphs">west</text>
<text y="1588.9" font-size="20" fill="#0c533a" stroke="#0c533a"><tspan x="1155.6" textLength="35.3" lengthAdjust="spacingAndGlyphs">adj.</tspan><tspan x="1192.4" font-size="17" textLength="129.9" lengthAdjust="spacing">西方的；西部的</tspan><tspan x="1332.7" textLength="39.7" lengthAdjust="spacingAndGlyphs">adv.</tspan><tspan x="1378.6" font-size="17" textLength="73.8" lengthAdjust="spacing">向西；朝</tspan></text>
<text y="1614.9" font-size="20" fill="#0c533a" stroke="#0c533a"><tspan x="1156.6" font-size="17">西</tspan><tspan x="1184.6" textLength="18.2" lengthAdjust="spacingAndGlyphs">n.</tspan><tspan x="1209.0" font-size="17" textLength="73.6" lengthAdjust="spacing">西；西方</tspan></text>
<text x="1050.5" y="1673.4" font-size="20" fill="#0c533a" stroke="#0c533a" textLength="52.1" lengthAdjust="spacingAndGlyphs">south</text>
<text y="1660.5" font-size="20" fill="#0c533a" stroke="#0c533a"><tspan x="1163.7" textLength="35.4" lengthAdjust="spacingAndGlyphs">adj.</tspan><tspan x="1200.6" font-size="17" textLength="130.2" lengthAdjust="spacing">南方的；南部的</tspan><tspan x="1341.3" textLength="39.8" lengthAdjust="spacingAndGlyphs">adv.</tspan><tspan x="1387.3" font-size="17" textLength="74.0" lengthAdjust="spacing">向南；朝</tspan></text>
<text y="1686.5" font-size="20" fill="#0c533a" stroke="#0c533a"><tspan x="1164.7" font-size="17">南</tspan><tspan x="1192.7" textLength="18.2" lengthAdjust="spacingAndGlyphs">n.</tspan><tspan x="1217.1" font-size="17" textLength="73.6" lengthAdjust="spacing">南；南方</tspan></text>
<text x="1050.5" y="1744.9" font-size="20" fill="#0c533a" stroke="#0c533a" textLength="50.1" lengthAdjust="spacingAndGlyphs">north</text>
<text y="1732.4" font-size="20" fill="#0c533a" stroke="#0c533a"><tspan x="1161.7" textLength="35.4" lengthAdjust="spacingAndGlyphs">adj.</tspan><tspan x="1198.6" font-size="17" textLength="130.2" lengthAdjust="spacing">北方的；北部的</tspan><tspan x="1339.3" textLength="39.8" lengthAdjust="spacingAndGlyphs">adv.</tspan><tspan x="1385.3" font-size="17" textLength="74.0" lengthAdjust="spacing">向北；朝</tspan></text>
<text y="1758.4" font-size="20" fill="#0c533a" stroke="#0c533a"><tspan x="1162.7" font-size="17">北</tspan><tspan x="1190.7" textLength="18.2" lengthAdjust="spacingAndGlyphs">n.</tspan><tspan x="1215.1" font-size="17" textLength="73.6" lengthAdjust="spacing">北；北方</tspan></text>
<text x="590.1" y="1804.4" font-size="20" fill="#0c533a" stroke="#0c533a" textLength="101.8" lengthAdjust="spacingAndGlyphs">fascinating</text>
<text y="1804.4" font-size="20" fill="#0c533a" stroke="#0c533a"><tspan x="753.8" textLength="35.5" lengthAdjust="spacingAndGlyphs">adj.</tspan><tspan x="790.9" font-size="17" textLength="187.3" lengthAdjust="spacing">迷人的；极有吸引力的</tspan></text>
<text x="590.1" y="1872.9" font-size="20" fill="#0c533a" stroke="#0c533a" textLength="105.8" lengthAdjust="spacingAndGlyphs">inexpensive</text>
<text y="1872.9" font-size="20" fill="#0c533a" stroke="#0c533a"><tspan x="756.2" textLength="35.0" lengthAdjust="spacingAndGlyphs">adj.</tspan><tspan x="792.7" font-size="17" textLength="73.1" lengthAdjust="spacing">不昂贵的</tspan></text>
<text x="927.7" y="1849.9" font-size="20" fill="#0c533a" stroke="#0c533a" textLength="87.2" lengthAdjust="spacingAndGlyphs">expensive</text>
<text y="1849.9" font-size="20" fill="#0c533a" stroke="#0c533a"><tspan x="1076.8" textLength="34.4" lengthAdjust="spacingAndGlyphs">adj.</tspan><tspan x="1112.8" font-size="17" textLength="53.7" lengthAdjust="spacing">昂贵的</tspan></text>
<text x="927.7" y="1895.9" font-size="20" fill="#0c533a" stroke="#0c533a" textLength="52.5" lengthAdjust="spacingAndGlyphs">cheap</text>
<text y="1895.9" font-size="20" fill="#0c533a" stroke="#0c533a"><tspan x="1041.6" textLength="35.4" lengthAdjust="spacingAndGlyphs">adj.</tspan><tspan x="1078.6" font-size="17" textLength="130.4" lengthAdjust="spacing">便宜的；廉价的</tspan></text>
<text x="590.1" y="1964.9" font-size="20" fill="#0c533a" stroke="#0c533a" textLength="99.8" lengthAdjust="spacingAndGlyphs">uncrowded</text>
<text y="1964.9" font-size="20" fill="#0c533a" stroke="#0c533a"><tspan x="750.2" textLength="35.3" lengthAdjust="spacingAndGlyphs">adj.</tspan><tspan x="787.1" font-size="17" textLength="148.6" lengthAdjust="spacing">不拥挤的；人少的</tspan></text>
<text x="997.9" y="1941.9" font-size="20" fill="#0c533a" stroke="#0c533a" textLength="74.4" lengthAdjust="spacingAndGlyphs">crowded</text>
<text y="1941.9" font-size="20" fill="#0c533a" stroke="#0c533a"><tspan x="1134.6" textLength="34.7" lengthAdjust="spacingAndGlyphs">adj.</tspan><tspan x="1170.9" font-size="17" textLength="54.2" lengthAdjust="spacing">拥挤的</tspan></text>
<text x="997.9" y="1987.9" font-size="20" fill="#0c533a" stroke="#0c533a" textLength="53.4" lengthAdjust="spacingAndGlyphs">crowd</text>
<text y="1987.9" font-size="20" fill="#0c533a" stroke="#0c533a"><tspan x="1113.2" textLength="17.8" lengthAdjust="spacingAndGlyphs">n.</tspan><tspan x="1132.6" font-size="17" textLength="35.5" lengthAdjust="spacing">人群</tspan></text>
<text x="590.1" y="2056.9" font-size="20" fill="#0c533a" stroke="#0c533a" textLength="100.6" lengthAdjust="spacingAndGlyphs">convenient</text>
<text y="2056.9" font-size="20" fill="#0c533a" stroke="#0c533a"><tspan x="751.8" textLength="35.2" lengthAdjust="spacingAndGlyphs">adj.</tspan><tspan x="788.6" font-size="17" textLength="129.7" lengthAdjust="spacing">便利的；方便的</tspan></text>
<text x="979.8" y="2033.9" font-size="20" fill="#0c533a" stroke="#0c533a" textLength="110.7" lengthAdjust="spacingAndGlyphs">convenience</text>
<text y="2033.9" font-size="20" fill="#0c533a" stroke="#0c533a"><tspan x="1152.8" textLength="18.3" lengthAdjust="spacingAndGlyphs">n.</tspan><tspan x="1172.7" font-size="17" textLength="92.9" lengthAdjust="spacing">便利；方便</tspan></text>
<text x="979.8" y="2079.9" font-size="20" fill="#0c533a" stroke="#0c533a" textLength="116.8" lengthAdjust="spacingAndGlyphs">inconvenient</text>
<text y="2079.9" font-size="20" fill="#0c533a" stroke="#0c533a"><tspan x="1158.5" textLength="34.8" lengthAdjust="spacingAndGlyphs">adj.</tspan><tspan x="1194.8" font-size="17" textLength="72.8" lengthAdjust="spacing">不方便的</tspan></text>
<text x="590.1" y="2125.9" font-size="20" fill="#0c533a" stroke="#0c533a" textLength="52.8" lengthAdjust="spacingAndGlyphs">direct</text>
<text y="2125.9" font-size="20" fill="#0c533a" stroke="#0c533a"><tspan x="711.3" textLength="35.3" lengthAdjust="spacingAndGlyphs">adj.</tspan><tspan x="748.1" font-size="17" textLength="129.8" lengthAdjust="spacing">直接的；直率的</tspan></text>
<text x="939.3" y="2125.9" font-size="20" fill="#0c533a" stroke="#0c533a" textLength="81.7" lengthAdjust="spacingAndGlyphs">direction</text>
<text y="2125.9" font-size="20" fill="#0c533a" stroke="#0c533a"><tspan x="1082.0" textLength="18.3" lengthAdjust="spacingAndGlyphs">n.</tspan><tspan x="1101.8" font-size="17" textLength="92.6" lengthAdjust="spacing">方向；方位</tspan></text>
<text x="590.1" y="2171.9" font-size="20" fill="#0c533a" stroke="#0c533a" textLength="68.2" lengthAdjust="spacingAndGlyphs">correct</text>
<text y="2171.9" font-size="20" fill="#0c533a" stroke="#0c533a"><tspan x="719.4" textLength="35.3" lengthAdjust="spacingAndGlyphs">adj.</tspan><tspan x="756.2" font-size="17" textLength="129.8" lengthAdjust="spacing">正确的；恰当的</tspan></text>
<text x="482.9" y="2258.0" text-anchor="middle" font-size="17.5" font-weight="500" fill="#ffffff" stroke="#ffffff" textLength="35.3" lengthAdjust="spacingAndGlyphs">副词</text>
<text x="571.1" y="2222.9" font-size="20" fill="#0e1a52" stroke="#0e1a52" textLength="84.4" lengthAdjust="spacingAndGlyphs">normally</text>
<text y="2222.9" font-size="20" fill="#0e1a52" stroke="#0e1a52"><tspan x="717.8" textLength="39.3" lengthAdjust="spacingAndGlyphs">adv.</tspan><tspan x="758.6" font-size="17" textLength="146.8" lengthAdjust="spacing">通常；通常情况下</tspan></text>
<text x="966.8" y="2222.9" font-size="20" fill="#0e1a52" stroke="#0e1a52" textLength="63.0" lengthAdjust="spacingAndGlyphs">normal</text>
<text y="2222.9" font-size="20" fill="#0e1a52" stroke="#0e1a52"><tspan x="1091.8" textLength="35.7" lengthAdjust="spacingAndGlyphs">adj.</tspan><tspan x="1133.9" font-size="17" textLength="207.3" lengthAdjust="spacing">典型的；正常的；一般的</tspan></text>
<text x="571.1" y="2290.9" font-size="20" fill="#0e1a52" stroke="#0e1a52" textLength="69.4" lengthAdjust="spacingAndGlyphs">politely</text>
<text y="2290.9" font-size="20" fill="#0e1a52" stroke="#0e1a52"><tspan x="702.5" textLength="39.1" lengthAdjust="spacingAndGlyphs">adv.</tspan><tspan x="743.2" font-size="17" textLength="127.8" lengthAdjust="spacing">礼貌地；客气的</tspan></text>
<text x="932.9" y="2268.4" font-size="20" fill="#0e1a52" stroke="#0e1a52" textLength="53.8" lengthAdjust="spacingAndGlyphs">polite</text>
<text y="2268.4" font-size="20" fill="#0e1a52" stroke="#0e1a52"><tspan x="1047.7" textLength="35.3" lengthAdjust="spacingAndGlyphs">adj.</tspan><tspan x="1084.6" font-size="17" textLength="130.0" lengthAdjust="spacing">礼貌的；客气的</tspan></text>
<text x="932.9" y="2313.9" font-size="20" fill="#0e1a52" stroke="#0e1a52" textLength="75.9" lengthAdjust="spacingAndGlyphs">impolite</text>
<text y="2313.9" font-size="20" fill="#0e1a52" stroke="#0e1a52"><tspan x="1070.7" textLength="18.2" lengthAdjust="spacingAndGlyphs">n.</tspan><tspan x="1090.5" font-size="17" textLength="73.6" lengthAdjust="spacing">不礼貌的</tspan></text>
<text x="1225.6" y="2313.9" font-size="20" fill="#0e1a52" stroke="#0e1a52" textLength="92.5" lengthAdjust="spacingAndGlyphs">impolitely</text>
<text y="2313.9" font-size="20" fill="#0e1a52" stroke="#0e1a52"><tspan x="1379.2" textLength="38.8" lengthAdjust="spacingAndGlyphs">adv.</tspan><tspan x="1419.5" font-size="17" textLength="72.1" lengthAdjust="spacing">不礼貌的</tspan></text>
<text x="482.9" y="2367.5" text-anchor="middle" font-size="17.5" font-weight="500" fill="#ffffff" stroke="#ffffff" textLength="35.3" lengthAdjust="spacingAndGlyphs">代词</text>
<text x="571.1" y="2367.4" font-size="20" fill="#121238" stroke="#121238" textLength="52.9" lengthAdjust="spacingAndGlyphs">whom</text>
<text y="2367.4" font-size="20" fill="#121238" stroke="#121238"><tspan x="685.5" textLength="49.6" lengthAdjust="spacingAndGlyphs">pron.</tspan><tspan x="741.4" font-size="17" textLength="92.0" lengthAdjust="spacing">谁；什么人</tspan></text>
<text x="482.9" y="2423.0" text-anchor="middle" font-size="17.5" font-weight="500" fill="#ffffff" stroke="#ffffff" textLength="35.3" lengthAdjust="spacingAndGlyphs">介词</text>
<text x="571.1" y="2422.9" font-size="20" fill="#4a0d0c" stroke="#4a0d0c" textLength="58.1" lengthAdjust="spacingAndGlyphs">beside</text>
<text y="2422.9" font-size="20" fill="#4a0d0c" stroke="#4a0d0c"><tspan x="691.1" textLength="49.1" lengthAdjust="spacingAndGlyphs">prep.</tspan><tspan x="741.7" font-size="17">在</tspan><tspan x="760.6" textLength="17.9" lengthAdjust="spacingAndGlyphs">...</tspan><tspan x="780.1" font-size="17" textLength="72.6" lengthAdjust="spacing">近旁；在</tspan><tspan x="854.2" textLength="17.9" lengthAdjust="spacingAndGlyphs">...</tspan><tspan x="873.6" font-size="17" textLength="35.8" lengthAdjust="spacing">附近</tspan></text>
<text x="482.9" y="2478.5" text-anchor="middle" font-size="17.5" font-weight="500" fill="#2a1503" stroke="#2a1503" textLength="35.3" lengthAdjust="spacingAndGlyphs">短语</text>
<text x="571.1" y="2478.4" font-size="20" fill="#3f2508" stroke="#3f2508" textLength="69.4" lengthAdjust="spacingAndGlyphs">pass by</text>
<text y="2478.4" font-size="20" fill="#3f2508" stroke="#3f2508"><tspan x="703.3" font-size="17" textLength="92.9" lengthAdjust="spacing">经过；路过</tspan></text>
</g>
<g>
<rect x="28.6" y="1286.5" width="359.7" height="130.3" rx="8" fill="#fff" stroke="#0e0b36" stroke-width="3"/>
<text x="53.8" y="1324.9" font-size="26" fill="#0e0b36" stroke="#0e0b36" stroke-width="0.7" textLength="300.0" lengthAdjust="spacingAndGlyphs">Unit 3 Could you please</text>
<text x="93.8" y="1359.5" font-size="26" fill="#0e0b36" stroke="#0e0b36" stroke-width="0.7" textLength="220.8" lengthAdjust="spacingAndGlyphs">tell me where the</text>
<text x="120.0" y="1394.0" font-size="26" fill="#0e0b36" stroke="#0e0b36" stroke-width="0.7" textLength="174.3" lengthAdjust="spacingAndGlyphs">restroom are?</text>
<text x="660.8" y="2535.2" font-size="18" font-weight="bold" fill="#d6d6d6" textLength="209" lengthAdjust="spacingAndGlyphs">Presented with XMind</text>
</g>
</svg>
</body></html>
